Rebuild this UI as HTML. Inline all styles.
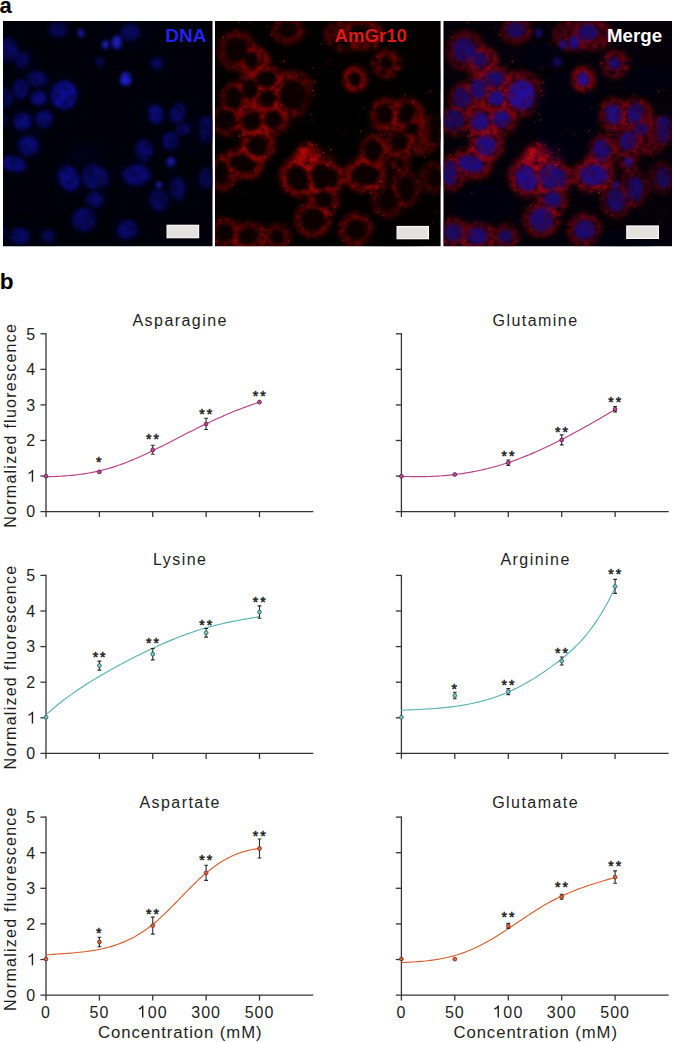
<!DOCTYPE html>
<html><head><meta charset="utf-8"><style>
html,body{margin:0;padding:0;background:#fff;}
body{width:673px;height:1042px;overflow:hidden;}
svg{display:block;}
.t{font-family:"Liberation Sans", sans-serif;fill:#1e1e1e;}
.t{font-size:16px;}
.yl{letter-spacing:1.25px;}
.tt{letter-spacing:1.45px;}
.xt{letter-spacing:0.95px;font-size:16.7px;}
.xl{letter-spacing:1px;}
.st{font-size:14px;letter-spacing:2px;stroke:#1e1e1e;stroke-width:0.5px;}
.lab{font-family:"Liberation Sans", sans-serif;font-weight:bold;font-size:22px;fill:#000;}
.pl{font-family:"Liberation Sans", sans-serif;font-weight:bold;font-size:19px;}
</style></head><body>
<svg width="673" height="1042" viewBox="0 0 673 1042">
<defs>
<filter id="fn" x="-20%" y="-20%" width="140%" height="140%" color-interpolation-filters="sRGB"><feGaussianBlur in="SourceGraphic" stdDeviation="1.5" result="b"/><feTurbulence type="fractalNoise" baseFrequency="0.12" numOctaves="2" seed="11" result="n"/><feColorMatrix in="n" type="matrix" values="0 0 0 0 0 0 0 0 0 0 0 0 0 0 0 1.1 0 0 0 0.3" result="na"/><feComposite in="b" in2="na" operator="in" result="m"/><feGaussianBlur in="m" stdDeviation="1.0"/></filter>
<filter id="fsp" x="-10%" y="-10%" width="120%" height="120%"><feGaussianBlur stdDeviation="0.7"/></filter>
<filter id="fnd" x="-20%" y="-20%" width="140%" height="140%"><feGaussianBlur stdDeviation="1.6"/></filter>
<filter id="fc" x="-30%" y="-30%" width="160%" height="160%" color-interpolation-filters="sRGB"><feGaussianBlur in="SourceGraphic" stdDeviation="2.4" result="b"/><feTurbulence type="fractalNoise" baseFrequency="0.22" numOctaves="2" seed="7" result="n"/><feColorMatrix in="n" type="matrix" values="0 0 0 0 0 0 0 0 0 0 0 0 0 0 0 2.2 0 0 0 -0.35" result="na"/><feComposite in="b" in2="na" operator="in" result="m"/><feGaussianBlur in="m" stdDeviation="0.9"/></filter>
<filter id="fc2" x="-30%" y="-30%" width="160%" height="160%"><feGaussianBlur stdDeviation="4.5"/></filter>
<filter id="fv" x="-30%" y="-30%" width="160%" height="160%"><feGaussianBlur stdDeviation="5"/></filter>
</defs>
<text x="-0.6" y="12.8" class="lab">a</text>
<clipPath id="clip_blue"><rect x="3" y="21" width="209.5" height="225.2"/></clipPath>
<rect x="3" y="21" width="209.5" height="225.2" fill="#01000a"/>
<g clip-path="url(#clip_blue)"><g transform="translate(-14,21)">
<g filter="url(#fc2)" opacity="0.9">
<ellipse cx="22" cy="30" rx="18" ry="19" fill="rgb(0,0,22)" fill-opacity="0.6"/>
<ellipse cx="40" cy="42" rx="14" ry="15" fill="rgb(0,0,27)" fill-opacity="0.6"/>
<ellipse cx="34" cy="70" rx="13" ry="15" fill="rgb(0,0,24)" fill-opacity="0.6"/>
<ellipse cx="20" cy="78" rx="13" ry="15" fill="rgb(0,0,23)" fill-opacity="0.6"/>
<ellipse cx="55" cy="78" rx="15" ry="13" fill="rgb(0,0,25)" fill-opacity="0.6"/>
<ellipse cx="54" cy="58" rx="15" ry="12" fill="rgb(0,0,23)" fill-opacity="0.6"/>
<ellipse cx="38" cy="101" rx="15" ry="15" fill="rgb(0,0,26)" fill-opacity="0.6"/>
<ellipse cx="60" cy="99" rx="13" ry="13" fill="rgb(0,0,24)" fill-opacity="0.6"/>
<ellipse cx="12" cy="100" rx="14" ry="14" fill="rgb(0,0,22)" fill-opacity="0.6"/>
<ellipse cx="78" cy="73" rx="22" ry="22" fill="rgb(0,0,24)" fill-opacity="0.6"/>
<ellipse cx="73" cy="10" rx="15" ry="12" fill="rgb(0,0,22)" fill-opacity="0.6"/>
<ellipse cx="130" cy="15" rx="20" ry="14" fill="rgb(0,0,22)" fill-opacity="0.6"/>
<ellipse cx="150" cy="14" rx="18" ry="14" fill="rgb(0,0,23)" fill-opacity="0.6"/>
<ellipse cx="172" cy="43" rx="13" ry="13" fill="rgb(0,0,23)" fill-opacity="0.6"/>
<ellipse cx="170" cy="94" rx="15" ry="16" fill="rgb(0,0,24)" fill-opacity="0.6"/>
<ellipse cx="193" cy="95" rx="16" ry="17" fill="rgb(0,0,23)" fill-opacity="0.6"/>
<ellipse cx="205" cy="115" rx="18" ry="18" fill="rgb(0,0,22)" fill-opacity="0.6"/>
<ellipse cx="43" cy="124" rx="16" ry="16" fill="rgb(0,0,27)" fill-opacity="0.6"/>
<ellipse cx="28" cy="143" rx="19" ry="14" fill="rgb(0,0,25)" fill-opacity="0.6"/>
<ellipse cx="84" cy="156" rx="18" ry="19" fill="rgb(0,0,27)" fill-opacity="0.6"/>
<ellipse cx="100" cy="136" rx="20" ry="12" fill="rgb(0,0,30)" fill-opacity="0.6"/>
<ellipse cx="97" cy="130" rx="12" ry="8" fill="rgb(0,0,30)" fill-opacity="0.6"/>
<ellipse cx="107" cy="156" rx="15" ry="18" fill="rgb(0,0,24)" fill-opacity="0.6"/>
<ellipse cx="109" cy="180" rx="14" ry="13" fill="rgb(0,0,24)" fill-opacity="0.6"/>
<ellipse cx="98" cy="199" rx="17" ry="16" fill="rgb(0,0,25)" fill-opacity="0.6"/>
<ellipse cx="34" cy="215" rx="17" ry="15" fill="rgb(0,0,25)" fill-opacity="0.6"/>
<ellipse cx="62" cy="216" rx="13" ry="12" fill="rgb(0,0,22)" fill-opacity="0.6"/>
<ellipse cx="8" cy="152" rx="13" ry="17" fill="rgb(0,0,23)" fill-opacity="0.6"/>
<ellipse cx="10" cy="212" rx="14" ry="14" fill="rgb(0,0,23)" fill-opacity="0.6"/>
<ellipse cx="158" cy="130" rx="14" ry="16" fill="rgb(0,0,25)" fill-opacity="0.6"/>
<ellipse cx="185" cy="122" rx="14" ry="14" fill="rgb(0,0,22)" fill-opacity="0.6"/>
<ellipse cx="150" cy="154" rx="20" ry="16" fill="rgb(0,0,27)" fill-opacity="0.6"/>
<ellipse cx="190" cy="168" rx="14" ry="18" fill="rgb(0,0,19)" fill-opacity="0.6"/>
<ellipse cx="173" cy="180" rx="15" ry="16" fill="rgb(0,0,20)" fill-opacity="0.6"/>
<ellipse cx="141" cy="209" rx="16" ry="16" fill="rgb(0,0,23)" fill-opacity="0.6"/>
<ellipse cx="218" cy="110" rx="12" ry="14" fill="rgb(0,0,20)" fill-opacity="0.6"/>
<ellipse cx="218" cy="157" rx="12" ry="15" fill="rgb(0,0,19)" fill-opacity="0.6"/>
<ellipse cx="117" cy="157" rx="11" ry="15" fill="rgb(0,0,24)" fill-opacity="0.6"/>
<ellipse cx="185" cy="141" rx="9" ry="9" fill="rgb(0,0,23)" fill-opacity="0.6"/>
</g>
<g filter="url(#fn)">
<ellipse cx="78" cy="74" rx="13" ry="14.5" transform="rotate(0 78 74)" fill="rgb(12,12,142)"/>
<ellipse cx="52.5" cy="77" rx="8.5" ry="7.5" transform="rotate(0 52.5 77)" fill="rgb(10,10,117)"/>
<ellipse cx="36.5" cy="100.5" rx="9" ry="9" transform="rotate(0 36.5 100.5)" fill="rgb(10,10,117)"/>
<ellipse cx="58" cy="98.3" rx="8.5" ry="8.5" transform="rotate(0 58 98.3)" fill="rgb(9,9,112)"/>
<ellipse cx="35" cy="68" rx="7.5" ry="10" transform="rotate(0 35 68)" fill="rgb(8,8,102)"/>
<ellipse cx="51" cy="58" rx="10" ry="8" transform="rotate(0 51 58)" fill="rgb(8,8,97)"/>
<ellipse cx="21" cy="29" rx="11" ry="12" transform="rotate(0 21 29)" fill="rgb(8,8,97)"/>
<ellipse cx="36" cy="39" rx="7" ry="8" transform="rotate(0 36 39)" fill="rgb(7,7,87)"/>
<ellipse cx="72.5" cy="8.5" rx="9" ry="8" transform="rotate(0 72.5 8.5)" fill="rgb(7,7,87)"/>
<ellipse cx="119.5" cy="23.5" rx="3.5" ry="4.5" transform="rotate(0 119.5 23.5)" fill="rgb(29,29,192)"/>
<ellipse cx="95" cy="12" rx="3.5" ry="4" transform="rotate(0 95 12)" fill="rgb(28,28,182)"/>
<ellipse cx="113.7" cy="41" rx="5" ry="5" transform="rotate(0 113.7 41)" fill="rgb(7,7,82)"/>
<ellipse cx="18.8" cy="77" rx="8" ry="11" transform="rotate(0 18.8 77)" fill="rgb(7,7,87)"/>
<ellipse cx="10" cy="99" rx="10" ry="10" transform="rotate(0 10 99)" fill="rgb(7,7,82)"/>
<ellipse cx="144.5" cy="11.5" rx="10" ry="8.5" transform="rotate(0 144.5 11.5)" fill="rgb(8,8,92)"/>
<ellipse cx="131" cy="21.5" rx="5" ry="7" transform="rotate(0 131 21.5)" fill="rgb(28,28,182)"/>
<ellipse cx="140" cy="58" rx="6" ry="7" transform="rotate(0 140 58)" fill="rgb(30,30,202)"/>
<ellipse cx="171" cy="42.5" rx="6" ry="6" transform="rotate(0 171 42.5)" fill="rgb(8,8,102)"/>
<ellipse cx="169.5" cy="93.3" rx="7.5" ry="10" transform="rotate(-15 169.5 93.3)" fill="rgb(10,10,117)"/>
<ellipse cx="191.5" cy="92.5" rx="7.5" ry="10.5" transform="rotate(20 191.5 92.5)" fill="rgb(8,8,102)"/>
<ellipse cx="197" cy="108" rx="7" ry="6" transform="rotate(0 197 108)" fill="rgb(8,8,92)"/>
<ellipse cx="220" cy="103" rx="7" ry="9" transform="rotate(0 220 103)" fill="rgb(7,7,82)"/>
<ellipse cx="42.5" cy="124.6" rx="10" ry="10" transform="rotate(0 42.5 124.6)" fill="rgb(10,10,117)"/>
<ellipse cx="27.3" cy="143" rx="13" ry="8" transform="rotate(15 27.3 143)" fill="rgb(9,9,112)"/>
<ellipse cx="83" cy="157.5" rx="10" ry="12.5" transform="rotate(-25 83 157.5)" fill="rgb(10,10,127)"/>
<ellipse cx="106.3" cy="155.5" rx="9.5" ry="12.5" transform="rotate(0 106.3 155.5)" fill="rgb(9,9,107)"/>
<ellipse cx="109" cy="178.5" rx="9" ry="8" transform="rotate(0 109 178.5)" fill="rgb(8,8,97)"/>
<ellipse cx="98" cy="198.5" rx="11.5" ry="11.5" transform="rotate(0 98 198.5)" fill="rgb(8,8,102)"/>
<ellipse cx="33.6" cy="215" rx="10" ry="8" transform="rotate(0 33.6 215)" fill="rgb(8,8,102)"/>
<ellipse cx="62" cy="216" rx="7" ry="7" transform="rotate(0 62 216)" fill="rgb(7,7,82)"/>
<ellipse cx="6.3" cy="152" rx="7" ry="12" transform="rotate(0 6.3 152)" fill="rgb(8,8,97)"/>
<ellipse cx="9.8" cy="211.8" rx="9" ry="9" transform="rotate(0 9.8 211.8)" fill="rgb(8,8,92)"/>
<ellipse cx="158" cy="129.7" rx="8.5" ry="11" transform="rotate(0 158 129.7)" fill="rgb(8,8,102)"/>
<ellipse cx="184.5" cy="120.3" rx="8" ry="9" transform="rotate(0 184.5 120.3)" fill="rgb(8,8,102)"/>
<ellipse cx="185" cy="141.6" rx="4" ry="5" transform="rotate(0 185 141.6)" fill="rgb(29,29,192)"/>
<ellipse cx="173" cy="163.7" rx="3" ry="3" transform="rotate(0 173 163.7)" fill="rgb(28,28,182)"/>
<ellipse cx="191.5" cy="168" rx="8" ry="12" transform="rotate(0 191.5 168)" fill="rgb(7,7,87)"/>
<ellipse cx="172.7" cy="179.2" rx="9.5" ry="11" transform="rotate(0 172.7 179.2)" fill="rgb(7,7,87)"/>
<ellipse cx="141" cy="209" rx="10" ry="10" transform="rotate(0 141 209)" fill="rgb(8,8,102)"/>
<ellipse cx="150.5" cy="154" rx="14" ry="10" transform="rotate(0 150.5 154)" fill="rgb(9,9,112)"/>
<ellipse cx="220" cy="114" rx="6" ry="8" transform="rotate(0 220 114)" fill="rgb(7,7,82)"/>
<ellipse cx="220" cy="157" rx="7" ry="10" transform="rotate(0 220 157)" fill="rgb(7,7,82)"/>
<ellipse cx="117" cy="157" rx="6" ry="10" transform="rotate(0 117 157)" fill="rgb(8,8,92)"/>
</g>
</g></g>
<clipPath id="clip_red"><rect x="215" y="21" width="225.6" height="225.2"/></clipPath>
<rect x="215" y="21" width="225.6" height="225.2" fill="#030000"/>
<g clip-path="url(#clip_red)"><g transform="translate(215,21)">
<g filter="url(#fc)">
<ellipse cx="22" cy="30" rx="18" ry="19" transform="rotate(0 22 30)" fill="rgb(127,4,4)" fill-opacity="0.6" stroke="rgb(151,8,8)" stroke-opacity="0.75" stroke-width="2.0"/>
<ellipse cx="40" cy="42" rx="14" ry="15" transform="rotate(0 40 42)" fill="rgb(183,6,6)" fill-opacity="0.6" stroke="rgb(211,10,10)" stroke-opacity="0.75" stroke-width="2.0"/>
<ellipse cx="34" cy="70" rx="13" ry="15" transform="rotate(0 34 70)" fill="rgb(151,5,5)" fill-opacity="0.6" stroke="rgb(177,9,9)" stroke-opacity="0.75" stroke-width="2.0"/>
<ellipse cx="20" cy="78" rx="13" ry="15" transform="rotate(0 20 78)" fill="rgb(135,4,4)" fill-opacity="0.6" stroke="rgb(160,8,8)" stroke-opacity="0.75" stroke-width="2.0"/>
<ellipse cx="55" cy="78" rx="15" ry="13" transform="rotate(0 55 78)" fill="rgb(167,5,5)" fill-opacity="0.6" stroke="rgb(194,9,9)" stroke-opacity="0.75" stroke-width="2.0"/>
<ellipse cx="54" cy="58" rx="15" ry="12" transform="rotate(0 54 58)" fill="rgb(143,4,4)" fill-opacity="0.6" stroke="rgb(168,8,8)" stroke-opacity="0.75" stroke-width="2.0"/>
<ellipse cx="38" cy="101" rx="15" ry="15" transform="rotate(0 38 101)" fill="rgb(175,5,5)" fill-opacity="0.6" stroke="rgb(202,9,9)" stroke-opacity="0.75" stroke-width="2.0"/>
<ellipse cx="60" cy="99" rx="13" ry="13" transform="rotate(0 60 99)" fill="rgb(151,5,5)" fill-opacity="0.6" stroke="rgb(177,9,9)" stroke-opacity="0.75" stroke-width="2.0"/>
<ellipse cx="12" cy="100" rx="14" ry="14" transform="rotate(0 12 100)" fill="rgb(127,4,4)" fill-opacity="0.6" stroke="rgb(151,8,8)" stroke-opacity="0.75" stroke-width="2.0"/>
<ellipse cx="78" cy="73" rx="22" ry="22" transform="rotate(0 78 73)" fill="rgb(151,5,5)" fill-opacity="0.6" stroke="rgb(177,9,9)" stroke-opacity="0.75" stroke-width="2.0"/>
<ellipse cx="73" cy="10" rx="15" ry="12" transform="rotate(0 73 10)" fill="rgb(127,4,4)" fill-opacity="0.6" stroke="rgb(151,8,8)" stroke-opacity="0.75" stroke-width="2.0"/>
<ellipse cx="130" cy="15" rx="20" ry="14" transform="rotate(0 130 15)" fill="rgb(127,4,4)" fill-opacity="0.6" stroke="rgb(151,8,8)" stroke-opacity="0.75" stroke-width="2.0"/>
<ellipse cx="150" cy="14" rx="18" ry="14" transform="rotate(0 150 14)" fill="rgb(143,4,4)" fill-opacity="0.6" stroke="rgb(168,8,8)" stroke-opacity="0.75" stroke-width="2.0"/>
<ellipse cx="172" cy="43" rx="13" ry="13" transform="rotate(0 172 43)" fill="rgb(143,4,4)" fill-opacity="0.6" stroke="rgb(168,8,8)" stroke-opacity="0.75" stroke-width="2.0"/>
<ellipse cx="170" cy="94" rx="15" ry="16" transform="rotate(0 170 94)" fill="rgb(151,5,5)" fill-opacity="0.6" stroke="rgb(177,9,9)" stroke-opacity="0.75" stroke-width="2.0"/>
<ellipse cx="193" cy="95" rx="16" ry="17" transform="rotate(0 193 95)" fill="rgb(143,4,4)" fill-opacity="0.6" stroke="rgb(168,8,8)" stroke-opacity="0.75" stroke-width="2.0"/>
<ellipse cx="205" cy="115" rx="18" ry="18" transform="rotate(0 205 115)" fill="rgb(127,4,4)" fill-opacity="0.6" stroke="rgb(151,8,8)" stroke-opacity="0.75" stroke-width="2.0"/>
<ellipse cx="43" cy="124" rx="16" ry="16" transform="rotate(0 43 124)" fill="rgb(183,6,6)" fill-opacity="0.6" stroke="rgb(211,10,10)" stroke-opacity="0.75" stroke-width="2.0"/>
<ellipse cx="28" cy="143" rx="19" ry="14" transform="rotate(15 28 143)" fill="rgb(167,5,5)" fill-opacity="0.6" stroke="rgb(194,9,9)" stroke-opacity="0.75" stroke-width="2.0"/>
<ellipse cx="84" cy="156" rx="18" ry="19" transform="rotate(-25 84 156)" fill="rgb(183,6,6)" fill-opacity="0.6" stroke="rgb(211,10,10)" stroke-opacity="0.75" stroke-width="2.0"/>
<ellipse cx="100" cy="136" rx="20" ry="12" transform="rotate(0 100 136)" fill="rgb(215,7,7)" fill-opacity="0.6" stroke="rgb(245,11,11)" stroke-opacity="0.75" stroke-width="2.0"/>
<ellipse cx="97" cy="130" rx="12" ry="8" transform="rotate(0 97 130)" fill="rgb(215,7,7)" fill-opacity="0.6" stroke="rgb(245,11,11)" stroke-opacity="0.75" stroke-width="2.0"/>
<ellipse cx="107" cy="156" rx="15" ry="18" transform="rotate(0 107 156)" fill="rgb(151,5,5)" fill-opacity="0.6" stroke="rgb(177,9,9)" stroke-opacity="0.75" stroke-width="2.0"/>
<ellipse cx="109" cy="180" rx="14" ry="13" transform="rotate(0 109 180)" fill="rgb(151,5,5)" fill-opacity="0.6" stroke="rgb(177,9,9)" stroke-opacity="0.75" stroke-width="2.0"/>
<ellipse cx="98" cy="199" rx="17" ry="16" transform="rotate(0 98 199)" fill="rgb(159,5,5)" fill-opacity="0.6" stroke="rgb(185,9,9)" stroke-opacity="0.75" stroke-width="2.0"/>
<ellipse cx="34" cy="215" rx="17" ry="15" transform="rotate(0 34 215)" fill="rgb(159,5,5)" fill-opacity="0.6" stroke="rgb(185,9,9)" stroke-opacity="0.75" stroke-width="2.0"/>
<ellipse cx="62" cy="216" rx="13" ry="12" transform="rotate(0 62 216)" fill="rgb(127,4,4)" fill-opacity="0.6" stroke="rgb(151,8,8)" stroke-opacity="0.75" stroke-width="2.0"/>
<ellipse cx="8" cy="152" rx="13" ry="17" transform="rotate(0 8 152)" fill="rgb(143,4,4)" fill-opacity="0.6" stroke="rgb(168,8,8)" stroke-opacity="0.75" stroke-width="2.0"/>
<ellipse cx="10" cy="212" rx="14" ry="14" transform="rotate(0 10 212)" fill="rgb(143,4,4)" fill-opacity="0.6" stroke="rgb(168,8,8)" stroke-opacity="0.75" stroke-width="2.0"/>
<ellipse cx="158" cy="130" rx="14" ry="16" transform="rotate(0 158 130)" fill="rgb(159,5,5)" fill-opacity="0.6" stroke="rgb(185,9,9)" stroke-opacity="0.75" stroke-width="2.0"/>
<ellipse cx="185" cy="122" rx="14" ry="14" transform="rotate(0 185 122)" fill="rgb(127,4,4)" fill-opacity="0.6" stroke="rgb(151,8,8)" stroke-opacity="0.75" stroke-width="2.0"/>
<ellipse cx="150" cy="154" rx="20" ry="16" transform="rotate(0 150 154)" fill="rgb(191,6,6)" fill-opacity="0.6" stroke="rgb(219,10,10)" stroke-opacity="0.75" stroke-width="2.0"/>
<ellipse cx="190" cy="168" rx="14" ry="18" transform="rotate(0 190 168)" fill="rgb(95,3,3)" fill-opacity="0.6" stroke="rgb(117,7,7)" stroke-opacity="0.75" stroke-width="2.0"/>
<ellipse cx="173" cy="180" rx="15" ry="16" transform="rotate(0 173 180)" fill="rgb(103,3,3)" fill-opacity="0.6" stroke="rgb(126,7,7)" stroke-opacity="0.75" stroke-width="2.0"/>
<ellipse cx="141" cy="209" rx="16" ry="16" transform="rotate(0 141 209)" fill="rgb(143,4,4)" fill-opacity="0.6" stroke="rgb(168,8,8)" stroke-opacity="0.75" stroke-width="2.0"/>
<ellipse cx="218" cy="110" rx="12" ry="14" transform="rotate(0 218 110)" fill="rgb(103,3,3)" fill-opacity="0.6" stroke="rgb(126,7,7)" stroke-opacity="0.75" stroke-width="2.0"/>
<ellipse cx="218" cy="157" rx="12" ry="15" transform="rotate(0 218 157)" fill="rgb(90,3,3)" fill-opacity="0.6" stroke="rgb(112,7,7)" stroke-opacity="0.75" stroke-width="2.0"/>
<ellipse cx="117" cy="157" rx="11" ry="15" transform="rotate(0 117 157)" fill="rgb(151,5,5)" fill-opacity="0.6" stroke="rgb(177,9,9)" stroke-opacity="0.75" stroke-width="2.0"/>
<ellipse cx="185" cy="141" rx="9" ry="9" transform="rotate(0 185 141)" fill="rgb(135,4,4)" fill-opacity="0.6" stroke="rgb(160,8,8)" stroke-opacity="0.75" stroke-width="2.0"/>
</g>
<g filter="url(#fv)">
<ellipse cx="122" cy="96" rx="33" ry="46" fill="#030000" fill-opacity="0.85"/>
<ellipse cx="98" cy="35" rx="20" ry="14" fill="#030000" fill-opacity="0.85"/>
<ellipse cx="40" cy="183" rx="28" ry="20" fill="#030000" fill-opacity="0.85"/>
<ellipse cx="205" cy="60" rx="22" ry="15" fill="#030000" fill-opacity="0.85"/>
<ellipse cx="180" cy="220" rx="30" ry="12" fill="#030000" fill-opacity="0.85"/>
</g>
<g filter="url(#fc)">
<ellipse cx="140" cy="58" rx="10" ry="11" transform="rotate(0 140 58)" fill="rgb(207,6,6)" fill-opacity="0.55" stroke="rgb(236,10,10)" stroke-opacity="0.9" stroke-width="2.6"/>
</g>
<g filter="url(#fsp)">
<circle cx="8.5" cy="16.1" r="0.82" fill="rgb(156,12,14)"/>
<circle cx="20.7" cy="8.8" r="0.51" fill="rgb(133,12,14)"/>
<circle cx="39.0" cy="23.3" r="0.86" fill="rgb(115,12,14)"/>
<circle cx="7.0" cy="33.1" r="0.72" fill="rgb(138,12,14)"/>
<circle cx="37.0" cy="31.3" r="0.61" fill="rgb(155,12,14)"/>
<circle cx="23.4" cy="14.6" r="0.82" fill="rgb(116,12,14)"/>
<circle cx="31.7" cy="33.9" r="0.50" fill="rgb(186,12,14)"/>
<circle cx="43.0" cy="54.1" r="0.89" fill="rgb(186,12,14)"/>
<circle cx="36.1" cy="58.5" r="0.72" fill="rgb(169,12,14)"/>
<circle cx="44.4" cy="58.2" r="0.78" fill="rgb(195,12,14)"/>
<circle cx="49.6" cy="33.9" r="0.64" fill="rgb(124,12,14)"/>
<circle cx="46.6" cy="51.2" r="0.62" fill="rgb(163,12,14)"/>
<circle cx="54.3" cy="42.3" r="0.64" fill="rgb(137,12,14)"/>
<circle cx="45.5" cy="29.2" r="0.63" fill="rgb(152,12,14)"/>
<circle cx="31.2" cy="58.9" r="0.89" fill="rgb(111,12,14)"/>
<circle cx="34.0" cy="53.7" r="0.51" fill="rgb(161,12,14)"/>
<circle cx="25.5" cy="81.0" r="0.50" fill="rgb(113,12,14)"/>
<circle cx="40.2" cy="85.4" r="0.58" fill="rgb(159,12,14)"/>
<circle cx="47.2" cy="62.8" r="0.64" fill="rgb(133,12,14)"/>
<circle cx="20.4" cy="67.5" r="0.54" fill="rgb(159,12,14)"/>
<circle cx="38.2" cy="54.3" r="0.51" fill="rgb(172,12,14)"/>
<circle cx="29.7" cy="85.2" r="0.74" fill="rgb(160,12,14)"/>
<circle cx="12.2" cy="92.2" r="0.72" fill="rgb(127,12,14)"/>
<circle cx="15.7" cy="89.2" r="0.53" fill="rgb(118,12,14)"/>
<circle cx="14.4" cy="62.0" r="0.56" fill="rgb(112,12,14)"/>
<circle cx="32.5" cy="76.8" r="0.66" fill="rgb(123,12,14)"/>
<circle cx="8.3" cy="69.0" r="0.68" fill="rgb(133,12,14)"/>
<circle cx="33.6" cy="83.7" r="0.51" fill="rgb(137,12,14)"/>
<circle cx="61.3" cy="69.1" r="0.79" fill="rgb(183,12,14)"/>
<circle cx="44.1" cy="67.9" r="0.54" fill="rgb(143,12,14)"/>
<circle cx="64.7" cy="89.4" r="0.62" fill="rgb(144,12,14)"/>
<circle cx="71.4" cy="77.9" r="0.89" fill="rgb(144,12,14)"/>
<circle cx="39.4" cy="79.0" r="0.69" fill="rgb(132,12,14)"/>
<circle cx="45.0" cy="84.0" r="0.65" fill="rgb(186,12,14)"/>
<circle cx="69.5" cy="74.7" r="0.70" fill="rgb(136,12,14)"/>
<circle cx="65.9" cy="83.9" r="0.81" fill="rgb(176,12,14)"/>
<circle cx="43.7" cy="67.8" r="0.81" fill="rgb(152,12,14)"/>
<circle cx="45.9" cy="47.2" r="0.65" fill="rgb(152,12,14)"/>
<circle cx="51.3" cy="69.1" r="0.81" fill="rgb(151,12,14)"/>
<circle cx="49.4" cy="71.0" r="0.76" fill="rgb(145,12,14)"/>
<circle cx="68.5" cy="58.8" r="0.60" fill="rgb(150,12,14)"/>
<circle cx="38.3" cy="61.0" r="0.76" fill="rgb(158,12,14)"/>
<circle cx="45.3" cy="67.9" r="0.80" fill="rgb(160,12,14)"/>
<circle cx="28.4" cy="114.2" r="0.85" fill="rgb(166,12,14)"/>
<circle cx="54.8" cy="98.5" r="0.71" fill="rgb(153,12,14)"/>
<circle cx="46.2" cy="115.1" r="0.87" fill="rgb(149,12,14)"/>
<circle cx="32.4" cy="86.5" r="0.79" fill="rgb(124,12,14)"/>
<circle cx="40.8" cy="86.5" r="0.77" fill="rgb(144,12,14)"/>
<circle cx="26.7" cy="89.8" r="0.75" fill="rgb(169,12,14)"/>
<circle cx="50.0" cy="103.1" r="0.68" fill="rgb(163,12,14)"/>
<circle cx="41.0" cy="116.1" r="0.75" fill="rgb(113,12,14)"/>
<circle cx="49.2" cy="100.9" r="0.52" fill="rgb(118,12,14)"/>
<circle cx="55.6" cy="108.8" r="0.58" fill="rgb(112,12,14)"/>
<circle cx="48.5" cy="101.5" r="0.74" fill="rgb(148,12,14)"/>
<circle cx="61.1" cy="113.4" r="0.50" fill="rgb(136,12,14)"/>
<circle cx="57.9" cy="110.7" r="0.55" fill="rgb(164,12,14)"/>
<circle cx="53.0" cy="106.1" r="0.75" fill="rgb(116,12,14)"/>
<circle cx="48.9" cy="95.8" r="0.73" fill="rgb(173,12,14)"/>
<circle cx="17.4" cy="88.3" r="0.83" fill="rgb(141,12,14)"/>
<circle cx="4.3" cy="108.3" r="0.74" fill="rgb(137,12,14)"/>
<circle cx="27.3" cy="95.8" r="0.74" fill="rgb(127,12,14)"/>
<circle cx="20.2" cy="93.5" r="0.54" fill="rgb(138,12,14)"/>
<circle cx="3.5" cy="92.5" r="0.75" fill="rgb(154,12,14)"/>
<circle cx="2.8" cy="109.1" r="0.59" fill="rgb(124,12,14)"/>
<circle cx="97.5" cy="69.6" r="0.88" fill="rgb(170,12,14)"/>
<circle cx="62.5" cy="62.4" r="0.89" fill="rgb(142,12,14)"/>
<circle cx="61.4" cy="82.8" r="0.89" fill="rgb(142,12,14)"/>
<circle cx="73.3" cy="93.2" r="0.55" fill="rgb(151,12,14)"/>
<circle cx="60.1" cy="79.6" r="0.81" fill="rgb(164,12,14)"/>
<circle cx="99.1" cy="74.8" r="0.61" fill="rgb(171,12,14)"/>
<circle cx="81.7" cy="54.7" r="0.61" fill="rgb(120,12,14)"/>
<circle cx="86.0" cy="9.3" r="0.74" fill="rgb(133,12,14)"/>
<circle cx="63.9" cy="0.6" r="0.80" fill="rgb(115,12,14)"/>
<circle cx="73.9" cy="-0.4" r="0.71" fill="rgb(126,12,14)"/>
<circle cx="68.8" cy="21.0" r="0.69" fill="rgb(127,12,14)"/>
<circle cx="72.5" cy="-1.8" r="0.51" fill="rgb(122,12,14)"/>
<circle cx="56.9" cy="13.7" r="0.86" fill="rgb(137,12,14)"/>
<circle cx="151.1" cy="16.4" r="0.67" fill="rgb(138,12,14)"/>
<circle cx="124.8" cy="1.4" r="0.69" fill="rgb(155,12,14)"/>
<circle cx="116.4" cy="23.4" r="0.84" fill="rgb(119,12,14)"/>
<circle cx="123.8" cy="29.5" r="0.53" fill="rgb(151,12,14)"/>
<circle cx="123.7" cy="2.9" r="0.61" fill="rgb(148,12,14)"/>
<circle cx="143.7" cy="9.0" r="0.69" fill="rgb(137,12,14)"/>
<circle cx="134.1" cy="14.2" r="0.56" fill="rgb(145,12,14)"/>
<circle cx="155.3" cy="3.9" r="0.59" fill="rgb(159,12,14)"/>
<circle cx="154.7" cy="0.3" r="0.51" fill="rgb(153,12,14)"/>
<circle cx="170.5" cy="11.9" r="0.78" fill="rgb(112,12,14)"/>
<circle cx="158.2" cy="4.2" r="0.76" fill="rgb(167,12,14)"/>
<circle cx="146.6" cy="3.1" r="0.62" fill="rgb(165,12,14)"/>
<circle cx="160.5" cy="25.2" r="0.67" fill="rgb(119,12,14)"/>
<circle cx="164.8" cy="36.1" r="0.54" fill="rgb(132,12,14)"/>
<circle cx="181.0" cy="47.4" r="0.73" fill="rgb(154,12,14)"/>
<circle cx="179.5" cy="35.8" r="0.67" fill="rgb(129,12,14)"/>
<circle cx="162.1" cy="35.8" r="0.88" fill="rgb(132,12,14)"/>
<circle cx="184.6" cy="47.6" r="0.56" fill="rgb(148,12,14)"/>
<circle cx="157.5" cy="42.5" r="0.72" fill="rgb(147,12,14)"/>
<circle cx="171.0" cy="55.6" r="0.60" fill="rgb(155,12,14)"/>
<circle cx="158.0" cy="92.6" r="0.59" fill="rgb(134,12,14)"/>
<circle cx="169.0" cy="80.9" r="0.79" fill="rgb(153,12,14)"/>
<circle cx="183.1" cy="102.3" r="0.54" fill="rgb(118,12,14)"/>
<circle cx="159.5" cy="86.5" r="0.85" fill="rgb(141,12,14)"/>
<circle cx="162.9" cy="109.3" r="0.51" fill="rgb(157,12,14)"/>
<circle cx="181.5" cy="98.3" r="0.88" fill="rgb(154,12,14)"/>
<circle cx="172.0" cy="106.6" r="0.89" fill="rgb(153,12,14)"/>
<circle cx="198.5" cy="82.6" r="0.75" fill="rgb(131,12,14)"/>
<circle cx="194.3" cy="109.9" r="0.75" fill="rgb(131,12,14)"/>
<circle cx="183.3" cy="104.0" r="0.83" fill="rgb(149,12,14)"/>
<circle cx="198.0" cy="80.2" r="0.84" fill="rgb(141,12,14)"/>
<circle cx="179.9" cy="85.8" r="0.80" fill="rgb(133,12,14)"/>
<circle cx="203.0" cy="102.4" r="0.58" fill="rgb(112,12,14)"/>
<circle cx="204.6" cy="84.7" r="0.80" fill="rgb(110,12,14)"/>
<circle cx="185.4" cy="118.7" r="0.75" fill="rgb(131,12,14)"/>
<circle cx="191.1" cy="118.1" r="0.56" fill="rgb(117,12,14)"/>
<circle cx="193.5" cy="126.5" r="0.85" fill="rgb(117,12,14)"/>
<circle cx="204.6" cy="130.5" r="0.56" fill="rgb(124,12,14)"/>
<circle cx="206.6" cy="131.9" r="0.51" fill="rgb(155,12,14)"/>
<circle cx="191.2" cy="129.9" r="0.78" fill="rgb(143,12,14)"/>
<circle cx="25.2" cy="127.2" r="0.55" fill="rgb(168,12,14)"/>
<circle cx="38.8" cy="139.8" r="0.79" fill="rgb(124,12,14)"/>
<circle cx="46.7" cy="135.6" r="0.59" fill="rgb(116,12,14)"/>
<circle cx="28.2" cy="134.6" r="0.65" fill="rgb(137,12,14)"/>
<circle cx="29.5" cy="126.8" r="0.79" fill="rgb(173,12,14)"/>
<circle cx="50.0" cy="135.6" r="0.77" fill="rgb(192,12,14)"/>
<circle cx="34.0" cy="112.3" r="0.89" fill="rgb(110,12,14)"/>
<circle cx="58.8" cy="130.3" r="0.66" fill="rgb(113,12,14)"/>
<circle cx="7.2" cy="138.2" r="0.71" fill="rgb(136,12,14)"/>
<circle cx="40.3" cy="149.1" r="0.86" fill="rgb(147,12,14)"/>
<circle cx="41.5" cy="138.8" r="0.60" fill="rgb(113,12,14)"/>
<circle cx="16.2" cy="149.5" r="0.60" fill="rgb(141,12,14)"/>
<circle cx="23.0" cy="153.1" r="0.52" fill="rgb(184,12,14)"/>
<circle cx="35.8" cy="155.1" r="0.66" fill="rgb(150,12,14)"/>
<circle cx="42.4" cy="149.2" r="0.54" fill="rgb(151,12,14)"/>
<circle cx="44.5" cy="136.4" r="0.84" fill="rgb(126,12,14)"/>
<circle cx="101.3" cy="158.0" r="0.69" fill="rgb(160,12,14)"/>
<circle cx="71.1" cy="169.3" r="0.79" fill="rgb(190,12,14)"/>
<circle cx="78.1" cy="172.5" r="0.83" fill="rgb(129,12,14)"/>
<circle cx="95.8" cy="167.0" r="0.54" fill="rgb(177,12,14)"/>
<circle cx="90.7" cy="140.9" r="0.55" fill="rgb(117,12,14)"/>
<circle cx="84.5" cy="170.9" r="0.67" fill="rgb(160,12,14)"/>
<circle cx="84.4" cy="170.7" r="0.78" fill="rgb(114,12,14)"/>
<circle cx="88.8" cy="171.6" r="0.65" fill="rgb(118,12,14)"/>
<circle cx="84.6" cy="141.0" r="0.80" fill="rgb(171,12,14)"/>
<circle cx="116.1" cy="128.6" r="0.80" fill="rgb(173,12,14)"/>
<circle cx="79.9" cy="140.6" r="0.76" fill="rgb(215,12,14)"/>
<circle cx="97.2" cy="123.8" r="0.61" fill="rgb(199,12,14)"/>
<circle cx="88.1" cy="142.5" r="0.53" fill="rgb(128,12,14)"/>
<circle cx="98.4" cy="148.2" r="0.61" fill="rgb(116,12,14)"/>
<circle cx="101.7" cy="124.4" r="0.51" fill="rgb(115,12,14)"/>
<circle cx="112.2" cy="143.8" r="0.84" fill="rgb(214,12,14)"/>
<circle cx="87.2" cy="129.5" r="0.67" fill="rgb(149,12,14)"/>
<circle cx="92.7" cy="143.9" r="0.73" fill="rgb(200,12,14)"/>
<circle cx="95.6" cy="123.8" r="0.71" fill="rgb(128,12,14)"/>
<circle cx="94.2" cy="122.8" r="0.88" fill="rgb(197,12,14)"/>
<circle cx="104.8" cy="134.7" r="0.87" fill="rgb(160,12,14)"/>
<circle cx="86.8" cy="133.0" r="0.81" fill="rgb(212,12,14)"/>
<circle cx="83.6" cy="128.1" r="0.74" fill="rgb(121,12,14)"/>
<circle cx="101.3" cy="123.2" r="0.52" fill="rgb(217,12,14)"/>
<circle cx="108.5" cy="131.6" r="0.69" fill="rgb(206,12,14)"/>
<circle cx="89.2" cy="134.2" r="0.61" fill="rgb(132,12,14)"/>
<circle cx="87.1" cy="127.3" r="0.80" fill="rgb(136,12,14)"/>
<circle cx="90.9" cy="135.5" r="0.89" fill="rgb(202,12,14)"/>
<circle cx="115.8" cy="141.5" r="0.66" fill="rgb(119,12,14)"/>
<circle cx="114.0" cy="141.2" r="0.52" fill="rgb(121,12,14)"/>
<circle cx="119.7" cy="166.9" r="0.86" fill="rgb(123,12,14)"/>
<circle cx="110.8" cy="140.9" r="0.77" fill="rgb(166,12,14)"/>
<circle cx="95.5" cy="142.5" r="0.65" fill="rgb(110,12,14)"/>
<circle cx="92.3" cy="154.7" r="0.57" fill="rgb(135,12,14)"/>
<circle cx="102.3" cy="168.5" r="0.62" fill="rgb(135,12,14)"/>
<circle cx="94.7" cy="182.0" r="0.66" fill="rgb(174,12,14)"/>
<circle cx="115.3" cy="166.7" r="0.78" fill="rgb(154,12,14)"/>
<circle cx="94.4" cy="176.8" r="0.65" fill="rgb(149,12,14)"/>
<circle cx="103.2" cy="168.7" r="0.61" fill="rgb(115,12,14)"/>
<circle cx="119.7" cy="186.0" r="0.73" fill="rgb(160,12,14)"/>
<circle cx="106.3" cy="168.9" r="0.87" fill="rgb(128,12,14)"/>
<circle cx="106.7" cy="170.1" r="0.80" fill="rgb(154,12,14)"/>
<circle cx="116.2" cy="194.3" r="0.78" fill="rgb(169,12,14)"/>
<circle cx="96.8" cy="183.1" r="0.58" fill="rgb(146,12,14)"/>
<circle cx="109.4" cy="190.8" r="0.89" fill="rgb(148,12,14)"/>
<circle cx="88.0" cy="206.5" r="0.66" fill="rgb(122,12,14)"/>
<circle cx="87.2" cy="184.4" r="0.86" fill="rgb(153,12,14)"/>
<circle cx="87.8" cy="207.3" r="0.78" fill="rgb(149,12,14)"/>
<circle cx="94.7" cy="184.9" r="0.85" fill="rgb(125,12,14)"/>
<circle cx="29.0" cy="227.1" r="0.75" fill="rgb(174,12,14)"/>
<circle cx="42.5" cy="228.1" r="0.81" fill="rgb(126,12,14)"/>
<circle cx="49.3" cy="220.6" r="0.83" fill="rgb(172,12,14)"/>
<circle cx="31.9" cy="201.4" r="0.67" fill="rgb(147,12,14)"/>
<circle cx="46.2" cy="207.6" r="0.61" fill="rgb(153,12,14)"/>
<circle cx="47.7" cy="212.4" r="0.51" fill="rgb(118,12,14)"/>
<circle cx="18.4" cy="209.3" r="0.57" fill="rgb(123,12,14)"/>
<circle cx="51.1" cy="209.2" r="0.78" fill="rgb(146,12,14)"/>
<circle cx="73.4" cy="220.3" r="0.83" fill="rgb(157,12,14)"/>
<circle cx="56.1" cy="227.9" r="0.76" fill="rgb(155,12,14)"/>
<circle cx="63.8" cy="228.2" r="0.84" fill="rgb(133,12,14)"/>
<circle cx="70.7" cy="221.9" r="0.56" fill="rgb(114,12,14)"/>
<circle cx="69.5" cy="225.8" r="0.54" fill="rgb(147,12,14)"/>
<circle cx="6.8" cy="133.8" r="0.82" fill="rgb(153,12,14)"/>
<circle cx="21.1" cy="143.2" r="0.75" fill="rgb(168,12,14)"/>
<circle cx="16.2" cy="160.1" r="0.53" fill="rgb(122,12,14)"/>
<circle cx="-0.6" cy="163.3" r="0.77" fill="rgb(154,12,14)"/>
<circle cx="18.2" cy="159.8" r="0.72" fill="rgb(132,12,14)"/>
<circle cx="17.5" cy="163.3" r="0.65" fill="rgb(151,12,14)"/>
<circle cx="-6.8" cy="152.5" r="0.88" fill="rgb(114,12,14)"/>
<circle cx="10.9" cy="197.5" r="0.62" fill="rgb(117,12,14)"/>
<circle cx="-2.4" cy="213.6" r="0.79" fill="rgb(165,12,14)"/>
<circle cx="1.1" cy="220.2" r="0.70" fill="rgb(152,12,14)"/>
<circle cx="13.3" cy="198.7" r="0.62" fill="rgb(130,12,14)"/>
<circle cx="17.7" cy="201.1" r="0.52" fill="rgb(135,12,14)"/>
<circle cx="11.1" cy="226.2" r="0.53" fill="rgb(126,12,14)"/>
<circle cx="20.8" cy="219.5" r="0.89" fill="rgb(142,12,14)"/>
<circle cx="146.1" cy="141.8" r="0.54" fill="rgb(135,12,14)"/>
<circle cx="161.9" cy="118.8" r="0.81" fill="rgb(135,12,14)"/>
<circle cx="169.8" cy="131.4" r="0.68" fill="rgb(137,12,14)"/>
<circle cx="147.3" cy="128.7" r="0.59" fill="rgb(179,12,14)"/>
<circle cx="145.7" cy="135.3" r="0.53" fill="rgb(129,12,14)"/>
<circle cx="171.8" cy="125.4" r="0.70" fill="rgb(113,12,14)"/>
<circle cx="146.4" cy="140.6" r="0.67" fill="rgb(152,12,14)"/>
<circle cx="196.5" cy="113.9" r="0.75" fill="rgb(111,12,14)"/>
<circle cx="199.6" cy="124.2" r="0.67" fill="rgb(153,12,14)"/>
<circle cx="192.2" cy="108.1" r="0.65" fill="rgb(159,12,14)"/>
<circle cx="185.6" cy="106.5" r="0.56" fill="rgb(148,12,14)"/>
<circle cx="170.9" cy="129.5" r="0.90" fill="rgb(120,12,14)"/>
<circle cx="174.4" cy="127.7" r="0.69" fill="rgb(124,12,14)"/>
<circle cx="142.0" cy="142.9" r="0.57" fill="rgb(152,12,14)"/>
<circle cx="166.1" cy="160.5" r="0.86" fill="rgb(192,12,14)"/>
<circle cx="155.0" cy="165.4" r="0.83" fill="rgb(199,12,14)"/>
<circle cx="136.9" cy="146.5" r="0.59" fill="rgb(196,12,14)"/>
<circle cx="164.1" cy="149.3" r="0.57" fill="rgb(150,12,14)"/>
<circle cx="147.8" cy="170.7" r="0.65" fill="rgb(182,12,14)"/>
<circle cx="161.1" cy="166.5" r="0.89" fill="rgb(175,12,14)"/>
<circle cx="163.4" cy="160.8" r="0.76" fill="rgb(145,12,14)"/>
<circle cx="137.2" cy="165.1" r="0.73" fill="rgb(200,12,14)"/>
<circle cx="190.8" cy="185.6" r="0.61" fill="rgb(124,12,14)"/>
<circle cx="188.7" cy="153.6" r="0.69" fill="rgb(129,12,14)"/>
<circle cx="204.8" cy="169.0" r="0.67" fill="rgb(123,12,14)"/>
<circle cx="178.5" cy="155.7" r="0.52" fill="rgb(123,12,14)"/>
<circle cx="202.3" cy="171.9" r="0.64" fill="rgb(110,12,14)"/>
<circle cx="168.9" cy="194.2" r="0.76" fill="rgb(140,12,14)"/>
<circle cx="163.1" cy="191.2" r="0.79" fill="rgb(140,12,14)"/>
<circle cx="189.3" cy="174.3" r="0.62" fill="rgb(115,12,14)"/>
<circle cx="183.7" cy="174.8" r="0.68" fill="rgb(134,12,14)"/>
<circle cx="159.6" cy="177.4" r="0.87" fill="rgb(119,12,14)"/>
<circle cx="124.6" cy="203.5" r="0.56" fill="rgb(131,12,14)"/>
<circle cx="125.4" cy="209.6" r="0.58" fill="rgb(137,12,14)"/>
<circle cx="152.7" cy="213.6" r="0.64" fill="rgb(118,12,14)"/>
<circle cx="154.4" cy="206.2" r="0.61" fill="rgb(157,12,14)"/>
<circle cx="140.2" cy="195.3" r="0.83" fill="rgb(147,12,14)"/>
<circle cx="128.7" cy="219.3" r="0.60" fill="rgb(125,12,14)"/>
<circle cx="151.6" cy="198.6" r="0.86" fill="rgb(120,12,14)"/>
<circle cx="224.0" cy="118.2" r="0.80" fill="rgb(128,12,14)"/>
<circle cx="227.2" cy="110.7" r="0.83" fill="rgb(126,12,14)"/>
<circle cx="224.3" cy="102.2" r="0.74" fill="rgb(113,12,14)"/>
<circle cx="215.8" cy="96.3" r="0.74" fill="rgb(117,12,14)"/>
<circle cx="227.0" cy="106.5" r="0.53" fill="rgb(132,12,14)"/>
<circle cx="225.8" cy="163.4" r="0.68" fill="rgb(125,12,14)"/>
<circle cx="227.7" cy="147.2" r="0.53" fill="rgb(125,12,14)"/>
<circle cx="223.3" cy="147.0" r="0.80" fill="rgb(116,12,14)"/>
<circle cx="215.3" cy="167.7" r="0.80" fill="rgb(122,12,14)"/>
<circle cx="227.2" cy="148.9" r="0.56" fill="rgb(115,12,14)"/>
<circle cx="116.0" cy="173.9" r="0.58" fill="rgb(115,12,14)"/>
<circle cx="111.8" cy="166.4" r="0.67" fill="rgb(151,12,14)"/>
<circle cx="111.7" cy="147.0" r="0.56" fill="rgb(142,12,14)"/>
<circle cx="113.1" cy="144.1" r="0.73" fill="rgb(170,12,14)"/>
<circle cx="122.8" cy="167.2" r="0.70" fill="rgb(145,12,14)"/>
<circle cx="125.7" cy="148.4" r="0.76" fill="rgb(137,12,14)"/>
<circle cx="119.5" cy="141.1" r="0.62" fill="rgb(117,12,14)"/>
<circle cx="184.5" cy="149.0" r="0.86" fill="rgb(124,12,14)"/>
<circle cx="178.8" cy="134.4" r="0.88" fill="rgb(116,12,14)"/>
<circle cx="186.0" cy="133.1" r="0.54" fill="rgb(144,12,14)"/>
<circle cx="189.9" cy="133.7" r="0.52" fill="rgb(163,12,14)"/>
<circle cx="178.3" cy="147.0" r="0.79" fill="rgb(124,12,14)"/>
<circle cx="178.3" cy="145.3" r="0.54" fill="rgb(113,12,14)"/>
<circle cx="183.3" cy="132.9" r="0.85" fill="rgb(113,12,14)"/>
<circle cx="68.7" cy="40.5" r="0.88" fill="rgb(153,12,14)"/>
<circle cx="204.4" cy="113.9" r="0.54" fill="rgb(123,12,14)"/>
<circle cx="51.6" cy="6.0" r="0.73" fill="rgb(113,12,14)"/>
<circle cx="24.6" cy="115.1" r="0.87" fill="rgb(165,12,14)"/>
<circle cx="106.3" cy="23.1" r="0.81" fill="rgb(99,12,14)"/>
<circle cx="122.5" cy="18.8" r="0.89" fill="rgb(133,12,14)"/>
<circle cx="99.7" cy="61.2" r="0.72" fill="rgb(167,12,14)"/>
<circle cx="97.6" cy="47.1" r="0.71" fill="rgb(163,12,14)"/>
<circle cx="87.0" cy="142.6" r="0.87" fill="rgb(116,12,14)"/>
<circle cx="184.9" cy="119.0" r="0.56" fill="rgb(94,12,14)"/>
<circle cx="214.1" cy="104.8" r="0.68" fill="rgb(163,12,14)"/>
<circle cx="130.9" cy="112.5" r="0.61" fill="rgb(149,12,14)"/>
<circle cx="58.4" cy="105.9" r="0.80" fill="rgb(138,12,14)"/>
<circle cx="30.6" cy="45.6" r="0.78" fill="rgb(148,12,14)"/>
<circle cx="23.4" cy="224.4" r="0.55" fill="rgb(103,12,14)"/>
<circle cx="20.5" cy="100.4" r="0.75" fill="rgb(158,12,14)"/>
<circle cx="37.2" cy="157.2" r="0.54" fill="rgb(136,12,14)"/>
<circle cx="57.4" cy="80.2" r="0.52" fill="rgb(147,12,14)"/>
<circle cx="27.9" cy="171.9" r="0.63" fill="rgb(137,12,14)"/>
<circle cx="145.7" cy="110.0" r="0.85" fill="rgb(163,12,14)"/>
<circle cx="64.3" cy="75.1" r="0.85" fill="rgb(100,12,14)"/>
<circle cx="95.8" cy="93.3" r="0.89" fill="rgb(100,12,14)"/>
<circle cx="149.4" cy="170.3" r="0.79" fill="rgb(90,12,14)"/>
<circle cx="215.2" cy="70.3" r="0.84" fill="rgb(142,12,14)"/>
<circle cx="95.9" cy="188.5" r="0.77" fill="rgb(117,12,14)"/>
<circle cx="166.9" cy="113.7" r="0.78" fill="rgb(139,12,14)"/>
<circle cx="181.5" cy="35.8" r="0.70" fill="rgb(90,12,14)"/>
<circle cx="180.3" cy="173.6" r="0.83" fill="rgb(93,12,14)"/>
<circle cx="122.0" cy="107.7" r="0.55" fill="rgb(106,12,14)"/>
<circle cx="222.2" cy="191.8" r="0.60" fill="rgb(156,12,14)"/>
<circle cx="148.4" cy="86.6" r="0.76" fill="rgb(108,12,14)"/>
<circle cx="62.4" cy="2.3" r="0.76" fill="rgb(136,12,14)"/>
<circle cx="169.5" cy="113.4" r="0.67" fill="rgb(114,12,14)"/>
<circle cx="167.7" cy="83.9" r="0.74" fill="rgb(150,12,14)"/>
<circle cx="101.4" cy="154.4" r="0.52" fill="rgb(110,12,14)"/>
<circle cx="191.7" cy="33.2" r="0.52" fill="rgb(91,12,14)"/>
<circle cx="174.7" cy="23.9" r="0.68" fill="rgb(125,12,14)"/>
<circle cx="183.1" cy="107.2" r="0.71" fill="rgb(91,12,14)"/>
<circle cx="181.3" cy="172.7" r="0.75" fill="rgb(156,12,14)"/>
<circle cx="140.0" cy="161.1" r="0.84" fill="rgb(139,12,14)"/>
<circle cx="4.6" cy="199.0" r="0.90" fill="rgb(106,12,14)"/>
<circle cx="15.1" cy="76.5" r="0.54" fill="rgb(119,12,14)"/>
<circle cx="20.3" cy="49.5" r="0.50" fill="rgb(124,12,14)"/>
<circle cx="68.4" cy="164.0" r="0.66" fill="rgb(103,12,14)"/>
<circle cx="217.4" cy="201.3" r="0.78" fill="rgb(107,12,14)"/>
<circle cx="91.8" cy="101.5" r="0.66" fill="rgb(92,12,14)"/>
<circle cx="103.9" cy="172.7" r="0.78" fill="rgb(158,12,14)"/>
<circle cx="155.7" cy="171.6" r="0.85" fill="rgb(163,12,14)"/>
<circle cx="180.8" cy="93.6" r="0.76" fill="rgb(142,12,14)"/>
<circle cx="201.3" cy="160.6" r="0.68" fill="rgb(105,12,14)"/>
<circle cx="74.7" cy="56.3" r="0.77" fill="rgb(151,12,14)"/>
<circle cx="43.8" cy="120.0" r="0.84" fill="rgb(119,12,14)"/>
<circle cx="21.6" cy="136.3" r="0.64" fill="rgb(101,12,14)"/>
<circle cx="65.7" cy="1.5" r="0.56" fill="rgb(124,12,14)"/>
<circle cx="23.9" cy="1.4" r="0.72" fill="rgb(166,12,14)"/>
<circle cx="190.2" cy="73.4" r="0.87" fill="rgb(96,12,14)"/>
<circle cx="34.3" cy="1.5" r="0.52" fill="rgb(138,12,14)"/>
<circle cx="172.6" cy="107.5" r="0.82" fill="rgb(126,12,14)"/>
<circle cx="209.5" cy="136.8" r="0.71" fill="rgb(103,12,14)"/>
<circle cx="97.2" cy="99.1" r="0.83" fill="rgb(108,12,14)"/>
</g>
<g filter="url(#fnd)">
<ellipse cx="78" cy="74" rx="13" ry="14.5" transform="rotate(0 78 74)" fill="#0a0000"/>
<ellipse cx="52.5" cy="77" rx="8.5" ry="7.5" transform="rotate(0 52.5 77)" fill="#0a0000"/>
<ellipse cx="36.5" cy="100.5" rx="9" ry="9" transform="rotate(0 36.5 100.5)" fill="#0a0000"/>
<ellipse cx="58" cy="98.3" rx="8.5" ry="8.5" transform="rotate(0 58 98.3)" fill="#0a0000"/>
<ellipse cx="35" cy="68" rx="7.5" ry="10" transform="rotate(0 35 68)" fill="#0a0000"/>
<ellipse cx="51" cy="58" rx="10" ry="8" transform="rotate(0 51 58)" fill="#0a0000"/>
<ellipse cx="21" cy="29" rx="11" ry="12" transform="rotate(0 21 29)" fill="#0a0000"/>
<ellipse cx="36" cy="39" rx="7" ry="8" transform="rotate(0 36 39)" fill="#0a0000"/>
<ellipse cx="72.5" cy="8.5" rx="9" ry="8" transform="rotate(0 72.5 8.5)" fill="#0a0000"/>
<ellipse cx="119.5" cy="23.5" rx="3.5" ry="4.5" transform="rotate(0 119.5 23.5)" fill="#0a0000"/>
<ellipse cx="95" cy="12" rx="3.5" ry="4" transform="rotate(0 95 12)" fill="#0a0000"/>
<ellipse cx="113.7" cy="41" rx="5" ry="5" transform="rotate(0 113.7 41)" fill="#0a0000"/>
<ellipse cx="18.8" cy="77" rx="8" ry="11" transform="rotate(0 18.8 77)" fill="#0a0000"/>
<ellipse cx="10" cy="99" rx="10" ry="10" transform="rotate(0 10 99)" fill="#0a0000"/>
<ellipse cx="144.5" cy="11.5" rx="10" ry="8.5" transform="rotate(0 144.5 11.5)" fill="#0a0000"/>
<ellipse cx="131" cy="21.5" rx="5" ry="7" transform="rotate(0 131 21.5)" fill="#0a0000"/>
<ellipse cx="140" cy="58" rx="6" ry="7" transform="rotate(0 140 58)" fill="#0a0000"/>
<ellipse cx="171" cy="42.5" rx="6" ry="6" transform="rotate(0 171 42.5)" fill="#0a0000"/>
<ellipse cx="169.5" cy="93.3" rx="7.5" ry="10" transform="rotate(-15 169.5 93.3)" fill="#0a0000"/>
<ellipse cx="191.5" cy="92.5" rx="7.5" ry="10.5" transform="rotate(20 191.5 92.5)" fill="#0a0000"/>
<ellipse cx="197" cy="108" rx="7" ry="6" transform="rotate(0 197 108)" fill="#0a0000"/>
<ellipse cx="220" cy="103" rx="7" ry="9" transform="rotate(0 220 103)" fill="#0a0000"/>
<ellipse cx="42.5" cy="124.6" rx="10" ry="10" transform="rotate(0 42.5 124.6)" fill="#0a0000"/>
<ellipse cx="27.3" cy="143" rx="13" ry="8" transform="rotate(15 27.3 143)" fill="#0a0000"/>
<ellipse cx="83" cy="157.5" rx="10" ry="12.5" transform="rotate(-25 83 157.5)" fill="#0a0000"/>
<ellipse cx="106.3" cy="155.5" rx="9.5" ry="12.5" transform="rotate(0 106.3 155.5)" fill="#0a0000"/>
<ellipse cx="109" cy="178.5" rx="9" ry="8" transform="rotate(0 109 178.5)" fill="#0a0000"/>
<ellipse cx="98" cy="198.5" rx="11.5" ry="11.5" transform="rotate(0 98 198.5)" fill="#0a0000"/>
<ellipse cx="33.6" cy="215" rx="10" ry="8" transform="rotate(0 33.6 215)" fill="#0a0000"/>
<ellipse cx="62" cy="216" rx="7" ry="7" transform="rotate(0 62 216)" fill="#0a0000"/>
<ellipse cx="6.3" cy="152" rx="7" ry="12" transform="rotate(0 6.3 152)" fill="#0a0000"/>
<ellipse cx="9.8" cy="211.8" rx="9" ry="9" transform="rotate(0 9.8 211.8)" fill="#0a0000"/>
<ellipse cx="158" cy="129.7" rx="8.5" ry="11" transform="rotate(0 158 129.7)" fill="#0a0000"/>
<ellipse cx="184.5" cy="120.3" rx="8" ry="9" transform="rotate(0 184.5 120.3)" fill="#0a0000"/>
<ellipse cx="185" cy="141.6" rx="4" ry="5" transform="rotate(0 185 141.6)" fill="#0a0000"/>
<ellipse cx="173" cy="163.7" rx="3" ry="3" transform="rotate(0 173 163.7)" fill="#0a0000"/>
<ellipse cx="191.5" cy="168" rx="8" ry="12" transform="rotate(0 191.5 168)" fill="#0a0000"/>
<ellipse cx="172.7" cy="179.2" rx="9.5" ry="11" transform="rotate(0 172.7 179.2)" fill="#0a0000"/>
<ellipse cx="141" cy="209" rx="10" ry="10" transform="rotate(0 141 209)" fill="#0a0000"/>
<ellipse cx="150.5" cy="154" rx="14" ry="10" transform="rotate(0 150.5 154)" fill="#0a0000"/>
<ellipse cx="220" cy="114" rx="6" ry="8" transform="rotate(0 220 114)" fill="#0a0000"/>
<ellipse cx="220" cy="157" rx="7" ry="10" transform="rotate(0 220 157)" fill="#0a0000"/>
<ellipse cx="117" cy="157" rx="6" ry="10" transform="rotate(0 117 157)" fill="#0a0000"/>
</g>
</g></g>
<clipPath id="clip_merge"><rect x="443.5" y="21" width="228.5" height="225.2"/></clipPath>
<rect x="443.5" y="21" width="228.5" height="225.2" fill="#04000a"/>
<g clip-path="url(#clip_merge)"><g transform="translate(443.5,21)">
<g filter="url(#fc)">
<ellipse cx="22" cy="30" rx="18" ry="19" transform="rotate(0 22 30)" fill="rgb(127,4,4)" fill-opacity="0.6" stroke="rgb(151,8,8)" stroke-opacity="0.75" stroke-width="2.0"/>
<ellipse cx="40" cy="42" rx="14" ry="15" transform="rotate(0 40 42)" fill="rgb(183,6,6)" fill-opacity="0.6" stroke="rgb(211,10,10)" stroke-opacity="0.75" stroke-width="2.0"/>
<ellipse cx="34" cy="70" rx="13" ry="15" transform="rotate(0 34 70)" fill="rgb(151,5,5)" fill-opacity="0.6" stroke="rgb(177,9,9)" stroke-opacity="0.75" stroke-width="2.0"/>
<ellipse cx="20" cy="78" rx="13" ry="15" transform="rotate(0 20 78)" fill="rgb(135,4,4)" fill-opacity="0.6" stroke="rgb(160,8,8)" stroke-opacity="0.75" stroke-width="2.0"/>
<ellipse cx="55" cy="78" rx="15" ry="13" transform="rotate(0 55 78)" fill="rgb(167,5,5)" fill-opacity="0.6" stroke="rgb(194,9,9)" stroke-opacity="0.75" stroke-width="2.0"/>
<ellipse cx="54" cy="58" rx="15" ry="12" transform="rotate(0 54 58)" fill="rgb(143,4,4)" fill-opacity="0.6" stroke="rgb(168,8,8)" stroke-opacity="0.75" stroke-width="2.0"/>
<ellipse cx="38" cy="101" rx="15" ry="15" transform="rotate(0 38 101)" fill="rgb(175,5,5)" fill-opacity="0.6" stroke="rgb(202,9,9)" stroke-opacity="0.75" stroke-width="2.0"/>
<ellipse cx="60" cy="99" rx="13" ry="13" transform="rotate(0 60 99)" fill="rgb(151,5,5)" fill-opacity="0.6" stroke="rgb(177,9,9)" stroke-opacity="0.75" stroke-width="2.0"/>
<ellipse cx="12" cy="100" rx="14" ry="14" transform="rotate(0 12 100)" fill="rgb(127,4,4)" fill-opacity="0.6" stroke="rgb(151,8,8)" stroke-opacity="0.75" stroke-width="2.0"/>
<ellipse cx="78" cy="73" rx="22" ry="22" transform="rotate(0 78 73)" fill="rgb(151,5,5)" fill-opacity="0.6" stroke="rgb(177,9,9)" stroke-opacity="0.75" stroke-width="2.0"/>
<ellipse cx="73" cy="10" rx="15" ry="12" transform="rotate(0 73 10)" fill="rgb(127,4,4)" fill-opacity="0.6" stroke="rgb(151,8,8)" stroke-opacity="0.75" stroke-width="2.0"/>
<ellipse cx="130" cy="15" rx="20" ry="14" transform="rotate(0 130 15)" fill="rgb(127,4,4)" fill-opacity="0.6" stroke="rgb(151,8,8)" stroke-opacity="0.75" stroke-width="2.0"/>
<ellipse cx="150" cy="14" rx="18" ry="14" transform="rotate(0 150 14)" fill="rgb(143,4,4)" fill-opacity="0.6" stroke="rgb(168,8,8)" stroke-opacity="0.75" stroke-width="2.0"/>
<ellipse cx="172" cy="43" rx="13" ry="13" transform="rotate(0 172 43)" fill="rgb(143,4,4)" fill-opacity="0.6" stroke="rgb(168,8,8)" stroke-opacity="0.75" stroke-width="2.0"/>
<ellipse cx="170" cy="94" rx="15" ry="16" transform="rotate(0 170 94)" fill="rgb(151,5,5)" fill-opacity="0.6" stroke="rgb(177,9,9)" stroke-opacity="0.75" stroke-width="2.0"/>
<ellipse cx="193" cy="95" rx="16" ry="17" transform="rotate(0 193 95)" fill="rgb(143,4,4)" fill-opacity="0.6" stroke="rgb(168,8,8)" stroke-opacity="0.75" stroke-width="2.0"/>
<ellipse cx="205" cy="115" rx="18" ry="18" transform="rotate(0 205 115)" fill="rgb(127,4,4)" fill-opacity="0.6" stroke="rgb(151,8,8)" stroke-opacity="0.75" stroke-width="2.0"/>
<ellipse cx="43" cy="124" rx="16" ry="16" transform="rotate(0 43 124)" fill="rgb(183,6,6)" fill-opacity="0.6" stroke="rgb(211,10,10)" stroke-opacity="0.75" stroke-width="2.0"/>
<ellipse cx="28" cy="143" rx="19" ry="14" transform="rotate(15 28 143)" fill="rgb(167,5,5)" fill-opacity="0.6" stroke="rgb(194,9,9)" stroke-opacity="0.75" stroke-width="2.0"/>
<ellipse cx="84" cy="156" rx="18" ry="19" transform="rotate(-25 84 156)" fill="rgb(183,6,6)" fill-opacity="0.6" stroke="rgb(211,10,10)" stroke-opacity="0.75" stroke-width="2.0"/>
<ellipse cx="100" cy="136" rx="20" ry="12" transform="rotate(0 100 136)" fill="rgb(215,7,7)" fill-opacity="0.6" stroke="rgb(245,11,11)" stroke-opacity="0.75" stroke-width="2.0"/>
<ellipse cx="97" cy="130" rx="12" ry="8" transform="rotate(0 97 130)" fill="rgb(215,7,7)" fill-opacity="0.6" stroke="rgb(245,11,11)" stroke-opacity="0.75" stroke-width="2.0"/>
<ellipse cx="107" cy="156" rx="15" ry="18" transform="rotate(0 107 156)" fill="rgb(151,5,5)" fill-opacity="0.6" stroke="rgb(177,9,9)" stroke-opacity="0.75" stroke-width="2.0"/>
<ellipse cx="109" cy="180" rx="14" ry="13" transform="rotate(0 109 180)" fill="rgb(151,5,5)" fill-opacity="0.6" stroke="rgb(177,9,9)" stroke-opacity="0.75" stroke-width="2.0"/>
<ellipse cx="98" cy="199" rx="17" ry="16" transform="rotate(0 98 199)" fill="rgb(159,5,5)" fill-opacity="0.6" stroke="rgb(185,9,9)" stroke-opacity="0.75" stroke-width="2.0"/>
<ellipse cx="34" cy="215" rx="17" ry="15" transform="rotate(0 34 215)" fill="rgb(159,5,5)" fill-opacity="0.6" stroke="rgb(185,9,9)" stroke-opacity="0.75" stroke-width="2.0"/>
<ellipse cx="62" cy="216" rx="13" ry="12" transform="rotate(0 62 216)" fill="rgb(127,4,4)" fill-opacity="0.6" stroke="rgb(151,8,8)" stroke-opacity="0.75" stroke-width="2.0"/>
<ellipse cx="8" cy="152" rx="13" ry="17" transform="rotate(0 8 152)" fill="rgb(143,4,4)" fill-opacity="0.6" stroke="rgb(168,8,8)" stroke-opacity="0.75" stroke-width="2.0"/>
<ellipse cx="10" cy="212" rx="14" ry="14" transform="rotate(0 10 212)" fill="rgb(143,4,4)" fill-opacity="0.6" stroke="rgb(168,8,8)" stroke-opacity="0.75" stroke-width="2.0"/>
<ellipse cx="158" cy="130" rx="14" ry="16" transform="rotate(0 158 130)" fill="rgb(159,5,5)" fill-opacity="0.6" stroke="rgb(185,9,9)" stroke-opacity="0.75" stroke-width="2.0"/>
<ellipse cx="185" cy="122" rx="14" ry="14" transform="rotate(0 185 122)" fill="rgb(127,4,4)" fill-opacity="0.6" stroke="rgb(151,8,8)" stroke-opacity="0.75" stroke-width="2.0"/>
<ellipse cx="150" cy="154" rx="20" ry="16" transform="rotate(0 150 154)" fill="rgb(191,6,6)" fill-opacity="0.6" stroke="rgb(219,10,10)" stroke-opacity="0.75" stroke-width="2.0"/>
<ellipse cx="190" cy="168" rx="14" ry="18" transform="rotate(0 190 168)" fill="rgb(95,3,3)" fill-opacity="0.6" stroke="rgb(117,7,7)" stroke-opacity="0.75" stroke-width="2.0"/>
<ellipse cx="173" cy="180" rx="15" ry="16" transform="rotate(0 173 180)" fill="rgb(103,3,3)" fill-opacity="0.6" stroke="rgb(126,7,7)" stroke-opacity="0.75" stroke-width="2.0"/>
<ellipse cx="141" cy="209" rx="16" ry="16" transform="rotate(0 141 209)" fill="rgb(143,4,4)" fill-opacity="0.6" stroke="rgb(168,8,8)" stroke-opacity="0.75" stroke-width="2.0"/>
<ellipse cx="218" cy="110" rx="12" ry="14" transform="rotate(0 218 110)" fill="rgb(103,3,3)" fill-opacity="0.6" stroke="rgb(126,7,7)" stroke-opacity="0.75" stroke-width="2.0"/>
<ellipse cx="218" cy="157" rx="12" ry="15" transform="rotate(0 218 157)" fill="rgb(90,3,3)" fill-opacity="0.6" stroke="rgb(112,7,7)" stroke-opacity="0.75" stroke-width="2.0"/>
<ellipse cx="117" cy="157" rx="11" ry="15" transform="rotate(0 117 157)" fill="rgb(151,5,5)" fill-opacity="0.6" stroke="rgb(177,9,9)" stroke-opacity="0.75" stroke-width="2.0"/>
<ellipse cx="185" cy="141" rx="9" ry="9" transform="rotate(0 185 141)" fill="rgb(135,4,4)" fill-opacity="0.6" stroke="rgb(160,8,8)" stroke-opacity="0.75" stroke-width="2.0"/>
</g>
<g filter="url(#fv)">
<ellipse cx="122" cy="96" rx="33" ry="46" fill="#04000a" fill-opacity="0.85"/>
<ellipse cx="98" cy="35" rx="20" ry="14" fill="#04000a" fill-opacity="0.85"/>
<ellipse cx="40" cy="183" rx="28" ry="20" fill="#04000a" fill-opacity="0.85"/>
<ellipse cx="205" cy="60" rx="22" ry="15" fill="#04000a" fill-opacity="0.85"/>
<ellipse cx="180" cy="220" rx="30" ry="12" fill="#04000a" fill-opacity="0.85"/>
</g>
<g filter="url(#fc)">
<ellipse cx="140" cy="58" rx="10" ry="11" transform="rotate(0 140 58)" fill="rgb(207,6,6)" fill-opacity="0.55" stroke="rgb(236,10,10)" stroke-opacity="0.9" stroke-width="2.6"/>
</g>
<g filter="url(#fsp)">
<circle cx="8.5" cy="16.1" r="0.82" fill="rgb(156,12,14)"/>
<circle cx="20.7" cy="8.8" r="0.51" fill="rgb(133,12,14)"/>
<circle cx="39.0" cy="23.3" r="0.86" fill="rgb(115,12,14)"/>
<circle cx="7.0" cy="33.1" r="0.72" fill="rgb(138,12,14)"/>
<circle cx="37.0" cy="31.3" r="0.61" fill="rgb(155,12,14)"/>
<circle cx="23.4" cy="14.6" r="0.82" fill="rgb(116,12,14)"/>
<circle cx="31.7" cy="33.9" r="0.50" fill="rgb(186,12,14)"/>
<circle cx="43.0" cy="54.1" r="0.89" fill="rgb(186,12,14)"/>
<circle cx="36.1" cy="58.5" r="0.72" fill="rgb(169,12,14)"/>
<circle cx="44.4" cy="58.2" r="0.78" fill="rgb(195,12,14)"/>
<circle cx="49.6" cy="33.9" r="0.64" fill="rgb(124,12,14)"/>
<circle cx="46.6" cy="51.2" r="0.62" fill="rgb(163,12,14)"/>
<circle cx="54.3" cy="42.3" r="0.64" fill="rgb(137,12,14)"/>
<circle cx="45.5" cy="29.2" r="0.63" fill="rgb(152,12,14)"/>
<circle cx="31.2" cy="58.9" r="0.89" fill="rgb(111,12,14)"/>
<circle cx="34.0" cy="53.7" r="0.51" fill="rgb(161,12,14)"/>
<circle cx="25.5" cy="81.0" r="0.50" fill="rgb(113,12,14)"/>
<circle cx="40.2" cy="85.4" r="0.58" fill="rgb(159,12,14)"/>
<circle cx="47.2" cy="62.8" r="0.64" fill="rgb(133,12,14)"/>
<circle cx="20.4" cy="67.5" r="0.54" fill="rgb(159,12,14)"/>
<circle cx="38.2" cy="54.3" r="0.51" fill="rgb(172,12,14)"/>
<circle cx="29.7" cy="85.2" r="0.74" fill="rgb(160,12,14)"/>
<circle cx="12.2" cy="92.2" r="0.72" fill="rgb(127,12,14)"/>
<circle cx="15.7" cy="89.2" r="0.53" fill="rgb(118,12,14)"/>
<circle cx="14.4" cy="62.0" r="0.56" fill="rgb(112,12,14)"/>
<circle cx="32.5" cy="76.8" r="0.66" fill="rgb(123,12,14)"/>
<circle cx="8.3" cy="69.0" r="0.68" fill="rgb(133,12,14)"/>
<circle cx="33.6" cy="83.7" r="0.51" fill="rgb(137,12,14)"/>
<circle cx="61.3" cy="69.1" r="0.79" fill="rgb(183,12,14)"/>
<circle cx="44.1" cy="67.9" r="0.54" fill="rgb(143,12,14)"/>
<circle cx="64.7" cy="89.4" r="0.62" fill="rgb(144,12,14)"/>
<circle cx="71.4" cy="77.9" r="0.89" fill="rgb(144,12,14)"/>
<circle cx="39.4" cy="79.0" r="0.69" fill="rgb(132,12,14)"/>
<circle cx="45.0" cy="84.0" r="0.65" fill="rgb(186,12,14)"/>
<circle cx="69.5" cy="74.7" r="0.70" fill="rgb(136,12,14)"/>
<circle cx="65.9" cy="83.9" r="0.81" fill="rgb(176,12,14)"/>
<circle cx="43.7" cy="67.8" r="0.81" fill="rgb(152,12,14)"/>
<circle cx="45.9" cy="47.2" r="0.65" fill="rgb(152,12,14)"/>
<circle cx="51.3" cy="69.1" r="0.81" fill="rgb(151,12,14)"/>
<circle cx="49.4" cy="71.0" r="0.76" fill="rgb(145,12,14)"/>
<circle cx="68.5" cy="58.8" r="0.60" fill="rgb(150,12,14)"/>
<circle cx="38.3" cy="61.0" r="0.76" fill="rgb(158,12,14)"/>
<circle cx="45.3" cy="67.9" r="0.80" fill="rgb(160,12,14)"/>
<circle cx="28.4" cy="114.2" r="0.85" fill="rgb(166,12,14)"/>
<circle cx="54.8" cy="98.5" r="0.71" fill="rgb(153,12,14)"/>
<circle cx="46.2" cy="115.1" r="0.87" fill="rgb(149,12,14)"/>
<circle cx="32.4" cy="86.5" r="0.79" fill="rgb(124,12,14)"/>
<circle cx="40.8" cy="86.5" r="0.77" fill="rgb(144,12,14)"/>
<circle cx="26.7" cy="89.8" r="0.75" fill="rgb(169,12,14)"/>
<circle cx="50.0" cy="103.1" r="0.68" fill="rgb(163,12,14)"/>
<circle cx="41.0" cy="116.1" r="0.75" fill="rgb(113,12,14)"/>
<circle cx="49.2" cy="100.9" r="0.52" fill="rgb(118,12,14)"/>
<circle cx="55.6" cy="108.8" r="0.58" fill="rgb(112,12,14)"/>
<circle cx="48.5" cy="101.5" r="0.74" fill="rgb(148,12,14)"/>
<circle cx="61.1" cy="113.4" r="0.50" fill="rgb(136,12,14)"/>
<circle cx="57.9" cy="110.7" r="0.55" fill="rgb(164,12,14)"/>
<circle cx="53.0" cy="106.1" r="0.75" fill="rgb(116,12,14)"/>
<circle cx="48.9" cy="95.8" r="0.73" fill="rgb(173,12,14)"/>
<circle cx="17.4" cy="88.3" r="0.83" fill="rgb(141,12,14)"/>
<circle cx="4.3" cy="108.3" r="0.74" fill="rgb(137,12,14)"/>
<circle cx="27.3" cy="95.8" r="0.74" fill="rgb(127,12,14)"/>
<circle cx="20.2" cy="93.5" r="0.54" fill="rgb(138,12,14)"/>
<circle cx="3.5" cy="92.5" r="0.75" fill="rgb(154,12,14)"/>
<circle cx="2.8" cy="109.1" r="0.59" fill="rgb(124,12,14)"/>
<circle cx="97.5" cy="69.6" r="0.88" fill="rgb(170,12,14)"/>
<circle cx="62.5" cy="62.4" r="0.89" fill="rgb(142,12,14)"/>
<circle cx="61.4" cy="82.8" r="0.89" fill="rgb(142,12,14)"/>
<circle cx="73.3" cy="93.2" r="0.55" fill="rgb(151,12,14)"/>
<circle cx="60.1" cy="79.6" r="0.81" fill="rgb(164,12,14)"/>
<circle cx="99.1" cy="74.8" r="0.61" fill="rgb(171,12,14)"/>
<circle cx="81.7" cy="54.7" r="0.61" fill="rgb(120,12,14)"/>
<circle cx="86.0" cy="9.3" r="0.74" fill="rgb(133,12,14)"/>
<circle cx="63.9" cy="0.6" r="0.80" fill="rgb(115,12,14)"/>
<circle cx="73.9" cy="-0.4" r="0.71" fill="rgb(126,12,14)"/>
<circle cx="68.8" cy="21.0" r="0.69" fill="rgb(127,12,14)"/>
<circle cx="72.5" cy="-1.8" r="0.51" fill="rgb(122,12,14)"/>
<circle cx="56.9" cy="13.7" r="0.86" fill="rgb(137,12,14)"/>
<circle cx="151.1" cy="16.4" r="0.67" fill="rgb(138,12,14)"/>
<circle cx="124.8" cy="1.4" r="0.69" fill="rgb(155,12,14)"/>
<circle cx="116.4" cy="23.4" r="0.84" fill="rgb(119,12,14)"/>
<circle cx="123.8" cy="29.5" r="0.53" fill="rgb(151,12,14)"/>
<circle cx="123.7" cy="2.9" r="0.61" fill="rgb(148,12,14)"/>
<circle cx="143.7" cy="9.0" r="0.69" fill="rgb(137,12,14)"/>
<circle cx="134.1" cy="14.2" r="0.56" fill="rgb(145,12,14)"/>
<circle cx="155.3" cy="3.9" r="0.59" fill="rgb(159,12,14)"/>
<circle cx="154.7" cy="0.3" r="0.51" fill="rgb(153,12,14)"/>
<circle cx="170.5" cy="11.9" r="0.78" fill="rgb(112,12,14)"/>
<circle cx="158.2" cy="4.2" r="0.76" fill="rgb(167,12,14)"/>
<circle cx="146.6" cy="3.1" r="0.62" fill="rgb(165,12,14)"/>
<circle cx="160.5" cy="25.2" r="0.67" fill="rgb(119,12,14)"/>
<circle cx="164.8" cy="36.1" r="0.54" fill="rgb(132,12,14)"/>
<circle cx="181.0" cy="47.4" r="0.73" fill="rgb(154,12,14)"/>
<circle cx="179.5" cy="35.8" r="0.67" fill="rgb(129,12,14)"/>
<circle cx="162.1" cy="35.8" r="0.88" fill="rgb(132,12,14)"/>
<circle cx="184.6" cy="47.6" r="0.56" fill="rgb(148,12,14)"/>
<circle cx="157.5" cy="42.5" r="0.72" fill="rgb(147,12,14)"/>
<circle cx="171.0" cy="55.6" r="0.60" fill="rgb(155,12,14)"/>
<circle cx="158.0" cy="92.6" r="0.59" fill="rgb(134,12,14)"/>
<circle cx="169.0" cy="80.9" r="0.79" fill="rgb(153,12,14)"/>
<circle cx="183.1" cy="102.3" r="0.54" fill="rgb(118,12,14)"/>
<circle cx="159.5" cy="86.5" r="0.85" fill="rgb(141,12,14)"/>
<circle cx="162.9" cy="109.3" r="0.51" fill="rgb(157,12,14)"/>
<circle cx="181.5" cy="98.3" r="0.88" fill="rgb(154,12,14)"/>
<circle cx="172.0" cy="106.6" r="0.89" fill="rgb(153,12,14)"/>
<circle cx="198.5" cy="82.6" r="0.75" fill="rgb(131,12,14)"/>
<circle cx="194.3" cy="109.9" r="0.75" fill="rgb(131,12,14)"/>
<circle cx="183.3" cy="104.0" r="0.83" fill="rgb(149,12,14)"/>
<circle cx="198.0" cy="80.2" r="0.84" fill="rgb(141,12,14)"/>
<circle cx="179.9" cy="85.8" r="0.80" fill="rgb(133,12,14)"/>
<circle cx="203.0" cy="102.4" r="0.58" fill="rgb(112,12,14)"/>
<circle cx="204.6" cy="84.7" r="0.80" fill="rgb(110,12,14)"/>
<circle cx="185.4" cy="118.7" r="0.75" fill="rgb(131,12,14)"/>
<circle cx="191.1" cy="118.1" r="0.56" fill="rgb(117,12,14)"/>
<circle cx="193.5" cy="126.5" r="0.85" fill="rgb(117,12,14)"/>
<circle cx="204.6" cy="130.5" r="0.56" fill="rgb(124,12,14)"/>
<circle cx="206.6" cy="131.9" r="0.51" fill="rgb(155,12,14)"/>
<circle cx="191.2" cy="129.9" r="0.78" fill="rgb(143,12,14)"/>
<circle cx="25.2" cy="127.2" r="0.55" fill="rgb(168,12,14)"/>
<circle cx="38.8" cy="139.8" r="0.79" fill="rgb(124,12,14)"/>
<circle cx="46.7" cy="135.6" r="0.59" fill="rgb(116,12,14)"/>
<circle cx="28.2" cy="134.6" r="0.65" fill="rgb(137,12,14)"/>
<circle cx="29.5" cy="126.8" r="0.79" fill="rgb(173,12,14)"/>
<circle cx="50.0" cy="135.6" r="0.77" fill="rgb(192,12,14)"/>
<circle cx="34.0" cy="112.3" r="0.89" fill="rgb(110,12,14)"/>
<circle cx="58.8" cy="130.3" r="0.66" fill="rgb(113,12,14)"/>
<circle cx="7.2" cy="138.2" r="0.71" fill="rgb(136,12,14)"/>
<circle cx="40.3" cy="149.1" r="0.86" fill="rgb(147,12,14)"/>
<circle cx="41.5" cy="138.8" r="0.60" fill="rgb(113,12,14)"/>
<circle cx="16.2" cy="149.5" r="0.60" fill="rgb(141,12,14)"/>
<circle cx="23.0" cy="153.1" r="0.52" fill="rgb(184,12,14)"/>
<circle cx="35.8" cy="155.1" r="0.66" fill="rgb(150,12,14)"/>
<circle cx="42.4" cy="149.2" r="0.54" fill="rgb(151,12,14)"/>
<circle cx="44.5" cy="136.4" r="0.84" fill="rgb(126,12,14)"/>
<circle cx="101.3" cy="158.0" r="0.69" fill="rgb(160,12,14)"/>
<circle cx="71.1" cy="169.3" r="0.79" fill="rgb(190,12,14)"/>
<circle cx="78.1" cy="172.5" r="0.83" fill="rgb(129,12,14)"/>
<circle cx="95.8" cy="167.0" r="0.54" fill="rgb(177,12,14)"/>
<circle cx="90.7" cy="140.9" r="0.55" fill="rgb(117,12,14)"/>
<circle cx="84.5" cy="170.9" r="0.67" fill="rgb(160,12,14)"/>
<circle cx="84.4" cy="170.7" r="0.78" fill="rgb(114,12,14)"/>
<circle cx="88.8" cy="171.6" r="0.65" fill="rgb(118,12,14)"/>
<circle cx="84.6" cy="141.0" r="0.80" fill="rgb(171,12,14)"/>
<circle cx="116.1" cy="128.6" r="0.80" fill="rgb(173,12,14)"/>
<circle cx="79.9" cy="140.6" r="0.76" fill="rgb(215,12,14)"/>
<circle cx="97.2" cy="123.8" r="0.61" fill="rgb(199,12,14)"/>
<circle cx="88.1" cy="142.5" r="0.53" fill="rgb(128,12,14)"/>
<circle cx="98.4" cy="148.2" r="0.61" fill="rgb(116,12,14)"/>
<circle cx="101.7" cy="124.4" r="0.51" fill="rgb(115,12,14)"/>
<circle cx="112.2" cy="143.8" r="0.84" fill="rgb(214,12,14)"/>
<circle cx="87.2" cy="129.5" r="0.67" fill="rgb(149,12,14)"/>
<circle cx="92.7" cy="143.9" r="0.73" fill="rgb(200,12,14)"/>
<circle cx="95.6" cy="123.8" r="0.71" fill="rgb(128,12,14)"/>
<circle cx="94.2" cy="122.8" r="0.88" fill="rgb(197,12,14)"/>
<circle cx="104.8" cy="134.7" r="0.87" fill="rgb(160,12,14)"/>
<circle cx="86.8" cy="133.0" r="0.81" fill="rgb(212,12,14)"/>
<circle cx="83.6" cy="128.1" r="0.74" fill="rgb(121,12,14)"/>
<circle cx="101.3" cy="123.2" r="0.52" fill="rgb(217,12,14)"/>
<circle cx="108.5" cy="131.6" r="0.69" fill="rgb(206,12,14)"/>
<circle cx="89.2" cy="134.2" r="0.61" fill="rgb(132,12,14)"/>
<circle cx="87.1" cy="127.3" r="0.80" fill="rgb(136,12,14)"/>
<circle cx="90.9" cy="135.5" r="0.89" fill="rgb(202,12,14)"/>
<circle cx="115.8" cy="141.5" r="0.66" fill="rgb(119,12,14)"/>
<circle cx="114.0" cy="141.2" r="0.52" fill="rgb(121,12,14)"/>
<circle cx="119.7" cy="166.9" r="0.86" fill="rgb(123,12,14)"/>
<circle cx="110.8" cy="140.9" r="0.77" fill="rgb(166,12,14)"/>
<circle cx="95.5" cy="142.5" r="0.65" fill="rgb(110,12,14)"/>
<circle cx="92.3" cy="154.7" r="0.57" fill="rgb(135,12,14)"/>
<circle cx="102.3" cy="168.5" r="0.62" fill="rgb(135,12,14)"/>
<circle cx="94.7" cy="182.0" r="0.66" fill="rgb(174,12,14)"/>
<circle cx="115.3" cy="166.7" r="0.78" fill="rgb(154,12,14)"/>
<circle cx="94.4" cy="176.8" r="0.65" fill="rgb(149,12,14)"/>
<circle cx="103.2" cy="168.7" r="0.61" fill="rgb(115,12,14)"/>
<circle cx="119.7" cy="186.0" r="0.73" fill="rgb(160,12,14)"/>
<circle cx="106.3" cy="168.9" r="0.87" fill="rgb(128,12,14)"/>
<circle cx="106.7" cy="170.1" r="0.80" fill="rgb(154,12,14)"/>
<circle cx="116.2" cy="194.3" r="0.78" fill="rgb(169,12,14)"/>
<circle cx="96.8" cy="183.1" r="0.58" fill="rgb(146,12,14)"/>
<circle cx="109.4" cy="190.8" r="0.89" fill="rgb(148,12,14)"/>
<circle cx="88.0" cy="206.5" r="0.66" fill="rgb(122,12,14)"/>
<circle cx="87.2" cy="184.4" r="0.86" fill="rgb(153,12,14)"/>
<circle cx="87.8" cy="207.3" r="0.78" fill="rgb(149,12,14)"/>
<circle cx="94.7" cy="184.9" r="0.85" fill="rgb(125,12,14)"/>
<circle cx="29.0" cy="227.1" r="0.75" fill="rgb(174,12,14)"/>
<circle cx="42.5" cy="228.1" r="0.81" fill="rgb(126,12,14)"/>
<circle cx="49.3" cy="220.6" r="0.83" fill="rgb(172,12,14)"/>
<circle cx="31.9" cy="201.4" r="0.67" fill="rgb(147,12,14)"/>
<circle cx="46.2" cy="207.6" r="0.61" fill="rgb(153,12,14)"/>
<circle cx="47.7" cy="212.4" r="0.51" fill="rgb(118,12,14)"/>
<circle cx="18.4" cy="209.3" r="0.57" fill="rgb(123,12,14)"/>
<circle cx="51.1" cy="209.2" r="0.78" fill="rgb(146,12,14)"/>
<circle cx="73.4" cy="220.3" r="0.83" fill="rgb(157,12,14)"/>
<circle cx="56.1" cy="227.9" r="0.76" fill="rgb(155,12,14)"/>
<circle cx="63.8" cy="228.2" r="0.84" fill="rgb(133,12,14)"/>
<circle cx="70.7" cy="221.9" r="0.56" fill="rgb(114,12,14)"/>
<circle cx="69.5" cy="225.8" r="0.54" fill="rgb(147,12,14)"/>
<circle cx="6.8" cy="133.8" r="0.82" fill="rgb(153,12,14)"/>
<circle cx="21.1" cy="143.2" r="0.75" fill="rgb(168,12,14)"/>
<circle cx="16.2" cy="160.1" r="0.53" fill="rgb(122,12,14)"/>
<circle cx="-0.6" cy="163.3" r="0.77" fill="rgb(154,12,14)"/>
<circle cx="18.2" cy="159.8" r="0.72" fill="rgb(132,12,14)"/>
<circle cx="17.5" cy="163.3" r="0.65" fill="rgb(151,12,14)"/>
<circle cx="-6.8" cy="152.5" r="0.88" fill="rgb(114,12,14)"/>
<circle cx="10.9" cy="197.5" r="0.62" fill="rgb(117,12,14)"/>
<circle cx="-2.4" cy="213.6" r="0.79" fill="rgb(165,12,14)"/>
<circle cx="1.1" cy="220.2" r="0.70" fill="rgb(152,12,14)"/>
<circle cx="13.3" cy="198.7" r="0.62" fill="rgb(130,12,14)"/>
<circle cx="17.7" cy="201.1" r="0.52" fill="rgb(135,12,14)"/>
<circle cx="11.1" cy="226.2" r="0.53" fill="rgb(126,12,14)"/>
<circle cx="20.8" cy="219.5" r="0.89" fill="rgb(142,12,14)"/>
<circle cx="146.1" cy="141.8" r="0.54" fill="rgb(135,12,14)"/>
<circle cx="161.9" cy="118.8" r="0.81" fill="rgb(135,12,14)"/>
<circle cx="169.8" cy="131.4" r="0.68" fill="rgb(137,12,14)"/>
<circle cx="147.3" cy="128.7" r="0.59" fill="rgb(179,12,14)"/>
<circle cx="145.7" cy="135.3" r="0.53" fill="rgb(129,12,14)"/>
<circle cx="171.8" cy="125.4" r="0.70" fill="rgb(113,12,14)"/>
<circle cx="146.4" cy="140.6" r="0.67" fill="rgb(152,12,14)"/>
<circle cx="196.5" cy="113.9" r="0.75" fill="rgb(111,12,14)"/>
<circle cx="199.6" cy="124.2" r="0.67" fill="rgb(153,12,14)"/>
<circle cx="192.2" cy="108.1" r="0.65" fill="rgb(159,12,14)"/>
<circle cx="185.6" cy="106.5" r="0.56" fill="rgb(148,12,14)"/>
<circle cx="170.9" cy="129.5" r="0.90" fill="rgb(120,12,14)"/>
<circle cx="174.4" cy="127.7" r="0.69" fill="rgb(124,12,14)"/>
<circle cx="142.0" cy="142.9" r="0.57" fill="rgb(152,12,14)"/>
<circle cx="166.1" cy="160.5" r="0.86" fill="rgb(192,12,14)"/>
<circle cx="155.0" cy="165.4" r="0.83" fill="rgb(199,12,14)"/>
<circle cx="136.9" cy="146.5" r="0.59" fill="rgb(196,12,14)"/>
<circle cx="164.1" cy="149.3" r="0.57" fill="rgb(150,12,14)"/>
<circle cx="147.8" cy="170.7" r="0.65" fill="rgb(182,12,14)"/>
<circle cx="161.1" cy="166.5" r="0.89" fill="rgb(175,12,14)"/>
<circle cx="163.4" cy="160.8" r="0.76" fill="rgb(145,12,14)"/>
<circle cx="137.2" cy="165.1" r="0.73" fill="rgb(200,12,14)"/>
<circle cx="190.8" cy="185.6" r="0.61" fill="rgb(124,12,14)"/>
<circle cx="188.7" cy="153.6" r="0.69" fill="rgb(129,12,14)"/>
<circle cx="204.8" cy="169.0" r="0.67" fill="rgb(123,12,14)"/>
<circle cx="178.5" cy="155.7" r="0.52" fill="rgb(123,12,14)"/>
<circle cx="202.3" cy="171.9" r="0.64" fill="rgb(110,12,14)"/>
<circle cx="168.9" cy="194.2" r="0.76" fill="rgb(140,12,14)"/>
<circle cx="163.1" cy="191.2" r="0.79" fill="rgb(140,12,14)"/>
<circle cx="189.3" cy="174.3" r="0.62" fill="rgb(115,12,14)"/>
<circle cx="183.7" cy="174.8" r="0.68" fill="rgb(134,12,14)"/>
<circle cx="159.6" cy="177.4" r="0.87" fill="rgb(119,12,14)"/>
<circle cx="124.6" cy="203.5" r="0.56" fill="rgb(131,12,14)"/>
<circle cx="125.4" cy="209.6" r="0.58" fill="rgb(137,12,14)"/>
<circle cx="152.7" cy="213.6" r="0.64" fill="rgb(118,12,14)"/>
<circle cx="154.4" cy="206.2" r="0.61" fill="rgb(157,12,14)"/>
<circle cx="140.2" cy="195.3" r="0.83" fill="rgb(147,12,14)"/>
<circle cx="128.7" cy="219.3" r="0.60" fill="rgb(125,12,14)"/>
<circle cx="151.6" cy="198.6" r="0.86" fill="rgb(120,12,14)"/>
<circle cx="224.0" cy="118.2" r="0.80" fill="rgb(128,12,14)"/>
<circle cx="227.2" cy="110.7" r="0.83" fill="rgb(126,12,14)"/>
<circle cx="224.3" cy="102.2" r="0.74" fill="rgb(113,12,14)"/>
<circle cx="215.8" cy="96.3" r="0.74" fill="rgb(117,12,14)"/>
<circle cx="227.0" cy="106.5" r="0.53" fill="rgb(132,12,14)"/>
<circle cx="225.8" cy="163.4" r="0.68" fill="rgb(125,12,14)"/>
<circle cx="227.7" cy="147.2" r="0.53" fill="rgb(125,12,14)"/>
<circle cx="223.3" cy="147.0" r="0.80" fill="rgb(116,12,14)"/>
<circle cx="215.3" cy="167.7" r="0.80" fill="rgb(122,12,14)"/>
<circle cx="227.2" cy="148.9" r="0.56" fill="rgb(115,12,14)"/>
<circle cx="116.0" cy="173.9" r="0.58" fill="rgb(115,12,14)"/>
<circle cx="111.8" cy="166.4" r="0.67" fill="rgb(151,12,14)"/>
<circle cx="111.7" cy="147.0" r="0.56" fill="rgb(142,12,14)"/>
<circle cx="113.1" cy="144.1" r="0.73" fill="rgb(170,12,14)"/>
<circle cx="122.8" cy="167.2" r="0.70" fill="rgb(145,12,14)"/>
<circle cx="125.7" cy="148.4" r="0.76" fill="rgb(137,12,14)"/>
<circle cx="119.5" cy="141.1" r="0.62" fill="rgb(117,12,14)"/>
<circle cx="184.5" cy="149.0" r="0.86" fill="rgb(124,12,14)"/>
<circle cx="178.8" cy="134.4" r="0.88" fill="rgb(116,12,14)"/>
<circle cx="186.0" cy="133.1" r="0.54" fill="rgb(144,12,14)"/>
<circle cx="189.9" cy="133.7" r="0.52" fill="rgb(163,12,14)"/>
<circle cx="178.3" cy="147.0" r="0.79" fill="rgb(124,12,14)"/>
<circle cx="178.3" cy="145.3" r="0.54" fill="rgb(113,12,14)"/>
<circle cx="183.3" cy="132.9" r="0.85" fill="rgb(113,12,14)"/>
<circle cx="68.7" cy="40.5" r="0.88" fill="rgb(153,12,14)"/>
<circle cx="204.4" cy="113.9" r="0.54" fill="rgb(123,12,14)"/>
<circle cx="51.6" cy="6.0" r="0.73" fill="rgb(113,12,14)"/>
<circle cx="24.6" cy="115.1" r="0.87" fill="rgb(165,12,14)"/>
<circle cx="106.3" cy="23.1" r="0.81" fill="rgb(99,12,14)"/>
<circle cx="122.5" cy="18.8" r="0.89" fill="rgb(133,12,14)"/>
<circle cx="99.7" cy="61.2" r="0.72" fill="rgb(167,12,14)"/>
<circle cx="97.6" cy="47.1" r="0.71" fill="rgb(163,12,14)"/>
<circle cx="87.0" cy="142.6" r="0.87" fill="rgb(116,12,14)"/>
<circle cx="184.9" cy="119.0" r="0.56" fill="rgb(94,12,14)"/>
<circle cx="214.1" cy="104.8" r="0.68" fill="rgb(163,12,14)"/>
<circle cx="130.9" cy="112.5" r="0.61" fill="rgb(149,12,14)"/>
<circle cx="58.4" cy="105.9" r="0.80" fill="rgb(138,12,14)"/>
<circle cx="30.6" cy="45.6" r="0.78" fill="rgb(148,12,14)"/>
<circle cx="23.4" cy="224.4" r="0.55" fill="rgb(103,12,14)"/>
<circle cx="20.5" cy="100.4" r="0.75" fill="rgb(158,12,14)"/>
<circle cx="37.2" cy="157.2" r="0.54" fill="rgb(136,12,14)"/>
<circle cx="57.4" cy="80.2" r="0.52" fill="rgb(147,12,14)"/>
<circle cx="27.9" cy="171.9" r="0.63" fill="rgb(137,12,14)"/>
<circle cx="145.7" cy="110.0" r="0.85" fill="rgb(163,12,14)"/>
<circle cx="64.3" cy="75.1" r="0.85" fill="rgb(100,12,14)"/>
<circle cx="95.8" cy="93.3" r="0.89" fill="rgb(100,12,14)"/>
<circle cx="149.4" cy="170.3" r="0.79" fill="rgb(90,12,14)"/>
<circle cx="215.2" cy="70.3" r="0.84" fill="rgb(142,12,14)"/>
<circle cx="95.9" cy="188.5" r="0.77" fill="rgb(117,12,14)"/>
<circle cx="166.9" cy="113.7" r="0.78" fill="rgb(139,12,14)"/>
<circle cx="181.5" cy="35.8" r="0.70" fill="rgb(90,12,14)"/>
<circle cx="180.3" cy="173.6" r="0.83" fill="rgb(93,12,14)"/>
<circle cx="122.0" cy="107.7" r="0.55" fill="rgb(106,12,14)"/>
<circle cx="222.2" cy="191.8" r="0.60" fill="rgb(156,12,14)"/>
<circle cx="148.4" cy="86.6" r="0.76" fill="rgb(108,12,14)"/>
<circle cx="62.4" cy="2.3" r="0.76" fill="rgb(136,12,14)"/>
<circle cx="169.5" cy="113.4" r="0.67" fill="rgb(114,12,14)"/>
<circle cx="167.7" cy="83.9" r="0.74" fill="rgb(150,12,14)"/>
<circle cx="101.4" cy="154.4" r="0.52" fill="rgb(110,12,14)"/>
<circle cx="191.7" cy="33.2" r="0.52" fill="rgb(91,12,14)"/>
<circle cx="174.7" cy="23.9" r="0.68" fill="rgb(125,12,14)"/>
<circle cx="183.1" cy="107.2" r="0.71" fill="rgb(91,12,14)"/>
<circle cx="181.3" cy="172.7" r="0.75" fill="rgb(156,12,14)"/>
<circle cx="140.0" cy="161.1" r="0.84" fill="rgb(139,12,14)"/>
<circle cx="4.6" cy="199.0" r="0.90" fill="rgb(106,12,14)"/>
<circle cx="15.1" cy="76.5" r="0.54" fill="rgb(119,12,14)"/>
<circle cx="20.3" cy="49.5" r="0.50" fill="rgb(124,12,14)"/>
<circle cx="68.4" cy="164.0" r="0.66" fill="rgb(103,12,14)"/>
<circle cx="217.4" cy="201.3" r="0.78" fill="rgb(107,12,14)"/>
<circle cx="91.8" cy="101.5" r="0.66" fill="rgb(92,12,14)"/>
<circle cx="103.9" cy="172.7" r="0.78" fill="rgb(158,12,14)"/>
<circle cx="155.7" cy="171.6" r="0.85" fill="rgb(163,12,14)"/>
<circle cx="180.8" cy="93.6" r="0.76" fill="rgb(142,12,14)"/>
<circle cx="201.3" cy="160.6" r="0.68" fill="rgb(105,12,14)"/>
<circle cx="74.7" cy="56.3" r="0.77" fill="rgb(151,12,14)"/>
<circle cx="43.8" cy="120.0" r="0.84" fill="rgb(119,12,14)"/>
<circle cx="21.6" cy="136.3" r="0.64" fill="rgb(101,12,14)"/>
<circle cx="65.7" cy="1.5" r="0.56" fill="rgb(124,12,14)"/>
<circle cx="23.9" cy="1.4" r="0.72" fill="rgb(166,12,14)"/>
<circle cx="190.2" cy="73.4" r="0.87" fill="rgb(96,12,14)"/>
<circle cx="34.3" cy="1.5" r="0.52" fill="rgb(138,12,14)"/>
<circle cx="172.6" cy="107.5" r="0.82" fill="rgb(126,12,14)"/>
<circle cx="209.5" cy="136.8" r="0.71" fill="rgb(103,12,14)"/>
<circle cx="97.2" cy="99.1" r="0.83" fill="rgb(108,12,14)"/>
</g>
<g filter="url(#fc2)" opacity="0.8" style="mix-blend-mode:screen">
<ellipse cx="22" cy="30" rx="18" ry="19" fill="rgb(0,0,22)" fill-opacity="0.6"/>
<ellipse cx="40" cy="42" rx="14" ry="15" fill="rgb(0,0,27)" fill-opacity="0.6"/>
<ellipse cx="34" cy="70" rx="13" ry="15" fill="rgb(0,0,24)" fill-opacity="0.6"/>
<ellipse cx="20" cy="78" rx="13" ry="15" fill="rgb(0,0,23)" fill-opacity="0.6"/>
<ellipse cx="55" cy="78" rx="15" ry="13" fill="rgb(0,0,25)" fill-opacity="0.6"/>
<ellipse cx="54" cy="58" rx="15" ry="12" fill="rgb(0,0,23)" fill-opacity="0.6"/>
<ellipse cx="38" cy="101" rx="15" ry="15" fill="rgb(0,0,26)" fill-opacity="0.6"/>
<ellipse cx="60" cy="99" rx="13" ry="13" fill="rgb(0,0,24)" fill-opacity="0.6"/>
<ellipse cx="12" cy="100" rx="14" ry="14" fill="rgb(0,0,22)" fill-opacity="0.6"/>
<ellipse cx="78" cy="73" rx="22" ry="22" fill="rgb(0,0,24)" fill-opacity="0.6"/>
<ellipse cx="73" cy="10" rx="15" ry="12" fill="rgb(0,0,22)" fill-opacity="0.6"/>
<ellipse cx="130" cy="15" rx="20" ry="14" fill="rgb(0,0,22)" fill-opacity="0.6"/>
<ellipse cx="150" cy="14" rx="18" ry="14" fill="rgb(0,0,23)" fill-opacity="0.6"/>
<ellipse cx="172" cy="43" rx="13" ry="13" fill="rgb(0,0,23)" fill-opacity="0.6"/>
<ellipse cx="170" cy="94" rx="15" ry="16" fill="rgb(0,0,24)" fill-opacity="0.6"/>
<ellipse cx="193" cy="95" rx="16" ry="17" fill="rgb(0,0,23)" fill-opacity="0.6"/>
<ellipse cx="205" cy="115" rx="18" ry="18" fill="rgb(0,0,22)" fill-opacity="0.6"/>
<ellipse cx="43" cy="124" rx="16" ry="16" fill="rgb(0,0,27)" fill-opacity="0.6"/>
<ellipse cx="28" cy="143" rx="19" ry="14" fill="rgb(0,0,25)" fill-opacity="0.6"/>
<ellipse cx="84" cy="156" rx="18" ry="19" fill="rgb(0,0,27)" fill-opacity="0.6"/>
<ellipse cx="100" cy="136" rx="20" ry="12" fill="rgb(0,0,30)" fill-opacity="0.6"/>
<ellipse cx="97" cy="130" rx="12" ry="8" fill="rgb(0,0,30)" fill-opacity="0.6"/>
<ellipse cx="107" cy="156" rx="15" ry="18" fill="rgb(0,0,24)" fill-opacity="0.6"/>
<ellipse cx="109" cy="180" rx="14" ry="13" fill="rgb(0,0,24)" fill-opacity="0.6"/>
<ellipse cx="98" cy="199" rx="17" ry="16" fill="rgb(0,0,25)" fill-opacity="0.6"/>
<ellipse cx="34" cy="215" rx="17" ry="15" fill="rgb(0,0,25)" fill-opacity="0.6"/>
<ellipse cx="62" cy="216" rx="13" ry="12" fill="rgb(0,0,22)" fill-opacity="0.6"/>
<ellipse cx="8" cy="152" rx="13" ry="17" fill="rgb(0,0,23)" fill-opacity="0.6"/>
<ellipse cx="10" cy="212" rx="14" ry="14" fill="rgb(0,0,23)" fill-opacity="0.6"/>
<ellipse cx="158" cy="130" rx="14" ry="16" fill="rgb(0,0,25)" fill-opacity="0.6"/>
<ellipse cx="185" cy="122" rx="14" ry="14" fill="rgb(0,0,22)" fill-opacity="0.6"/>
<ellipse cx="150" cy="154" rx="20" ry="16" fill="rgb(0,0,27)" fill-opacity="0.6"/>
<ellipse cx="190" cy="168" rx="14" ry="18" fill="rgb(0,0,19)" fill-opacity="0.6"/>
<ellipse cx="173" cy="180" rx="15" ry="16" fill="rgb(0,0,20)" fill-opacity="0.6"/>
<ellipse cx="141" cy="209" rx="16" ry="16" fill="rgb(0,0,23)" fill-opacity="0.6"/>
<ellipse cx="218" cy="110" rx="12" ry="14" fill="rgb(0,0,20)" fill-opacity="0.6"/>
<ellipse cx="218" cy="157" rx="12" ry="15" fill="rgb(0,0,19)" fill-opacity="0.6"/>
<ellipse cx="117" cy="157" rx="11" ry="15" fill="rgb(0,0,24)" fill-opacity="0.6"/>
<ellipse cx="185" cy="141" rx="9" ry="9" fill="rgb(0,0,23)" fill-opacity="0.6"/>
</g>
<g filter="url(#fn)">
<ellipse cx="78" cy="74" rx="13" ry="14.5" transform="rotate(0 78 74)" fill="rgb(34,14,160)"/>
<ellipse cx="52.5" cy="77" rx="8.5" ry="7.5" transform="rotate(0 52.5 77)" fill="rgb(30,12,133)"/>
<ellipse cx="36.5" cy="100.5" rx="9" ry="9" transform="rotate(0 36.5 100.5)" fill="rgb(30,12,133)"/>
<ellipse cx="58" cy="98.3" rx="8.5" ry="8.5" transform="rotate(0 58 98.3)" fill="rgb(29,11,128)"/>
<ellipse cx="35" cy="68" rx="7.5" ry="10" transform="rotate(0 35 68)" fill="rgb(27,10,118)"/>
<ellipse cx="51" cy="58" rx="10" ry="8" transform="rotate(0 51 58)" fill="rgb(26,10,112)"/>
<ellipse cx="21" cy="29" rx="11" ry="12" transform="rotate(0 21 29)" fill="rgb(26,10,112)"/>
<ellipse cx="36" cy="39" rx="7" ry="8" transform="rotate(0 36 39)" fill="rgb(25,9,102)"/>
<ellipse cx="72.5" cy="8.5" rx="9" ry="8" transform="rotate(0 72.5 8.5)" fill="rgb(25,9,102)"/>
<ellipse cx="119.5" cy="23.5" rx="3.5" ry="4.5" transform="rotate(0 119.5 23.5)" fill="rgb(32,13,149)"/>
<ellipse cx="95" cy="12" rx="3.5" ry="4" transform="rotate(0 95 12)" fill="rgb(30,12,139)"/>
<ellipse cx="113.7" cy="41" rx="5" ry="5" transform="rotate(0 113.7 41)" fill="rgb(24,9,97)"/>
<ellipse cx="18.8" cy="77" rx="8" ry="11" transform="rotate(0 18.8 77)" fill="rgb(25,9,102)"/>
<ellipse cx="10" cy="99" rx="10" ry="10" transform="rotate(0 10 99)" fill="rgb(24,9,97)"/>
<ellipse cx="144.5" cy="11.5" rx="10" ry="8.5" transform="rotate(0 144.5 11.5)" fill="rgb(26,10,107)"/>
<ellipse cx="131" cy="21.5" rx="5" ry="7" transform="rotate(0 131 21.5)" fill="rgb(30,12,139)"/>
<ellipse cx="140" cy="58" rx="6" ry="7" transform="rotate(0 140 58)" fill="rgb(34,14,160)"/>
<ellipse cx="171" cy="42.5" rx="6" ry="6" transform="rotate(0 171 42.5)" fill="rgb(27,10,118)"/>
<ellipse cx="169.5" cy="93.3" rx="7.5" ry="10" transform="rotate(-15 169.5 93.3)" fill="rgb(30,12,133)"/>
<ellipse cx="191.5" cy="92.5" rx="7.5" ry="10.5" transform="rotate(20 191.5 92.5)" fill="rgb(27,10,118)"/>
<ellipse cx="197" cy="108" rx="7" ry="6" transform="rotate(0 197 108)" fill="rgb(26,10,107)"/>
<ellipse cx="220" cy="103" rx="7" ry="9" transform="rotate(0 220 103)" fill="rgb(24,9,97)"/>
<ellipse cx="42.5" cy="124.6" rx="10" ry="10" transform="rotate(0 42.5 124.6)" fill="rgb(30,12,133)"/>
<ellipse cx="27.3" cy="143" rx="13" ry="8" transform="rotate(15 27.3 143)" fill="rgb(29,11,128)"/>
<ellipse cx="83" cy="157.5" rx="10" ry="12.5" transform="rotate(-25 83 157.5)" fill="rgb(31,12,144)"/>
<ellipse cx="106.3" cy="155.5" rx="9.5" ry="12.5" transform="rotate(0 106.3 155.5)" fill="rgb(28,11,123)"/>
<ellipse cx="109" cy="178.5" rx="9" ry="8" transform="rotate(0 109 178.5)" fill="rgb(26,10,112)"/>
<ellipse cx="98" cy="198.5" rx="11.5" ry="11.5" transform="rotate(0 98 198.5)" fill="rgb(27,10,118)"/>
<ellipse cx="33.6" cy="215" rx="10" ry="8" transform="rotate(0 33.6 215)" fill="rgb(27,10,118)"/>
<ellipse cx="62" cy="216" rx="7" ry="7" transform="rotate(0 62 216)" fill="rgb(24,9,97)"/>
<ellipse cx="6.3" cy="152" rx="7" ry="12" transform="rotate(0 6.3 152)" fill="rgb(26,10,112)"/>
<ellipse cx="9.8" cy="211.8" rx="9" ry="9" transform="rotate(0 9.8 211.8)" fill="rgb(26,10,107)"/>
<ellipse cx="158" cy="129.7" rx="8.5" ry="11" transform="rotate(0 158 129.7)" fill="rgb(27,10,118)"/>
<ellipse cx="184.5" cy="120.3" rx="8" ry="9" transform="rotate(0 184.5 120.3)" fill="rgb(27,10,118)"/>
<ellipse cx="185" cy="141.6" rx="4" ry="5" transform="rotate(0 185 141.6)" fill="rgb(32,13,149)"/>
<ellipse cx="173" cy="163.7" rx="3" ry="3" transform="rotate(0 173 163.7)" fill="rgb(30,12,139)"/>
<ellipse cx="191.5" cy="168" rx="8" ry="12" transform="rotate(0 191.5 168)" fill="rgb(25,9,102)"/>
<ellipse cx="172.7" cy="179.2" rx="9.5" ry="11" transform="rotate(0 172.7 179.2)" fill="rgb(25,9,102)"/>
<ellipse cx="141" cy="209" rx="10" ry="10" transform="rotate(0 141 209)" fill="rgb(27,10,118)"/>
<ellipse cx="150.5" cy="154" rx="14" ry="10" transform="rotate(0 150.5 154)" fill="rgb(29,11,128)"/>
<ellipse cx="220" cy="114" rx="6" ry="8" transform="rotate(0 220 114)" fill="rgb(24,9,97)"/>
<ellipse cx="220" cy="157" rx="7" ry="10" transform="rotate(0 220 157)" fill="rgb(24,9,97)"/>
<ellipse cx="117" cy="157" rx="6" ry="10" transform="rotate(0 117 157)" fill="rgb(26,10,107)"/>
</g>
</g></g>
<text x="206.5" y="42.3" text-anchor="end" class="pl" fill="#2222ea">DNA</text>
<text x="334.6" y="41.8" class="pl" fill="#d81a1e" style="font-size:18.6px">AmGr10</text>
<text x="607.0" y="42.4" class="pl" fill="#ffffff" style="font-size:18.7px">Merge</text>
<rect x="167.1" y="225.3" width="31.5" height="12.399999999999977" fill="#e3e2df" stroke="#fbfbfb" stroke-width="1.2"/>
<rect x="397.1" y="226.5" width="31.299999999999955" height="12.199999999999989" fill="#e3e2df" stroke="#fbfbfb" stroke-width="1.2"/>
<rect x="626.8" y="226.0" width="31.600000000000023" height="12.400000000000006" fill="#e3e2df" stroke="#fbfbfb" stroke-width="1.2"/>
<text x="-0.3" y="288.6" class="lab" style="font-size:22.6px">b</text>
<line x1="46.0" y1="333.2" x2="46.0" y2="517.0" stroke="#353535" stroke-width="1.3"/>
<line x1="40.4" y1="511.6" x2="313.3" y2="511.6" stroke="#353535" stroke-width="1.3"/>
<line x1="40.4" y1="476.04" x2="46.0" y2="476.04" stroke="#353535" stroke-width="1.3"/>
<line x1="40.4" y1="440.48" x2="46.0" y2="440.48" stroke="#353535" stroke-width="1.3"/>
<line x1="40.4" y1="404.92" x2="46.0" y2="404.92" stroke="#353535" stroke-width="1.3"/>
<line x1="40.4" y1="369.36" x2="46.0" y2="369.36" stroke="#353535" stroke-width="1.3"/>
<line x1="40.4" y1="333.80" x2="46.0" y2="333.80" stroke="#353535" stroke-width="1.3"/>
<line x1="99.4" y1="511.6" x2="99.4" y2="517.1" stroke="#353535" stroke-width="1.3"/>
<line x1="152.75" y1="511.6" x2="152.75" y2="517.1" stroke="#353535" stroke-width="1.3"/>
<line x1="206.1" y1="511.6" x2="206.1" y2="517.1" stroke="#353535" stroke-width="1.3"/>
<line x1="259.5" y1="511.6" x2="259.5" y2="517.1" stroke="#353535" stroke-width="1.3"/>
<text x="35.2" y="517.40" text-anchor="end" class="t">0</text>
<path d="M33.15,481.84 L33.15,469.94 L32.00,469.94 C31.30,471.34 30.00,472.24 28.50,472.74 L28.70,474.14 C29.90,473.74 31.00,473.04 31.75,472.34 L31.75,481.84 Z" fill="#1e1e1e"/>
<text x="35.2" y="446.28" text-anchor="end" class="t">2</text>
<text x="35.2" y="410.72" text-anchor="end" class="t">3</text>
<text x="35.2" y="375.16" text-anchor="end" class="t">4</text>
<text x="35.2" y="339.60" text-anchor="end" class="t">5</text>
<text transform="translate(16.2,425.30) rotate(-90)" text-anchor="middle" class="t yl">Normalized fluorescence</text>
<text x="180.2" y="325.7" text-anchor="middle" class="t tt">Asparagine</text>
<path d="M45.60,476.77 L48.00,476.71 L50.41,476.64 L52.81,476.55 L55.22,476.45 L57.62,476.34 L60.03,476.22 L62.43,476.07 L64.84,475.91 L67.24,475.73 L69.64,475.53 L72.05,475.31 L74.45,475.07 L76.86,474.80 L79.26,474.50 L81.67,474.18 L84.07,473.83 L86.48,473.45 L88.88,473.04 L91.29,472.60 L93.69,472.13 L96.09,471.62 L98.50,471.08 L100.90,470.51 L103.31,469.91 L105.71,469.27 L108.12,468.59 L110.52,467.89 L112.93,467.15 L115.33,466.38 L117.73,465.57 L120.14,464.73 L122.54,463.87 L124.95,462.97 L127.35,462.04 L129.76,461.08 L132.16,460.10 L134.57,459.09 L136.97,458.05 L139.38,456.99 L141.78,455.91 L144.18,454.81 L146.59,453.69 L148.99,452.55 L151.40,451.39 L153.80,450.22 L156.21,449.04 L158.61,447.84 L161.02,446.63 L163.42,445.42 L165.82,444.19 L168.23,442.97 L170.63,441.73 L173.04,440.49 L175.44,439.26 L177.85,438.02 L180.25,436.78 L182.66,435.54 L185.06,434.31 L187.47,433.09 L189.87,431.86 L192.27,430.65 L194.68,429.44 L197.08,428.24 L199.49,427.05 L201.89,425.87 L204.30,424.71 L206.70,423.55 L209.11,422.41 L211.51,421.28 L213.91,420.16 L216.32,419.06 L218.72,417.98 L221.13,416.91 L223.53,415.85 L225.94,414.81 L228.34,413.79 L230.75,412.78 L233.15,411.80 L235.56,410.82 L237.96,409.87 L240.36,408.93 L242.77,408.01 L245.17,407.11 L247.58,406.23 L249.98,405.36 L252.39,404.51 L254.79,403.68 L257.20,402.87 L259.60,402.07" fill="none" stroke="#b8428c" stroke-width="1.15"/>
<circle cx="46.0" cy="476.2" r="1.9" fill="#c04c98" stroke="#5e1844" stroke-width="0.85"/>
<circle cx="99.4" cy="471.9" r="1.9" fill="#c04c98" stroke="#5e1844" stroke-width="0.85"/>
<path d="M152.75,445.3 V454.3 M150.85,445.3 H154.65 M150.85,454.3 H154.65" stroke="#2a2a2a" stroke-width="1.1" fill="none"/>
<circle cx="152.75" cy="449.8" r="1.9" fill="#c04c98" stroke="#5e1844" stroke-width="0.85"/>
<path d="M206.1,418.29999999999995 V429.5 M204.2,418.29999999999995 H208.0 M204.2,429.5 H208.0" stroke="#2a2a2a" stroke-width="1.1" fill="none"/>
<circle cx="206.1" cy="423.9" r="1.9" fill="#c04c98" stroke="#5e1844" stroke-width="0.85"/>
<circle cx="259.5" cy="402.1" r="1.9" fill="#c04c98" stroke="#5e1844" stroke-width="0.85"/>
<text x="99.80000000000001" y="467.30" text-anchor="middle" class="t st">*</text>
<text x="153.45" y="444.10" text-anchor="middle" class="t st">**</text>
<text x="206.79999999999998" y="418.70" text-anchor="middle" class="t st">**</text>
<text x="260.2" y="401.30" text-anchor="middle" class="t st">**</text>
<line x1="401.4" y1="333.2" x2="401.4" y2="517.0" stroke="#353535" stroke-width="1.3"/>
<line x1="395.79999999999995" y1="511.6" x2="668.7" y2="511.6" stroke="#353535" stroke-width="1.3"/>
<line x1="395.79999999999995" y1="476.04" x2="401.4" y2="476.04" stroke="#353535" stroke-width="1.3"/>
<line x1="395.79999999999995" y1="440.48" x2="401.4" y2="440.48" stroke="#353535" stroke-width="1.3"/>
<line x1="395.79999999999995" y1="404.92" x2="401.4" y2="404.92" stroke="#353535" stroke-width="1.3"/>
<line x1="395.79999999999995" y1="369.36" x2="401.4" y2="369.36" stroke="#353535" stroke-width="1.3"/>
<line x1="395.79999999999995" y1="333.80" x2="401.4" y2="333.80" stroke="#353535" stroke-width="1.3"/>
<line x1="454.8" y1="511.6" x2="454.8" y2="517.1" stroke="#353535" stroke-width="1.3"/>
<line x1="508.3" y1="511.6" x2="508.3" y2="517.1" stroke="#353535" stroke-width="1.3"/>
<line x1="561.7" y1="511.6" x2="561.7" y2="517.1" stroke="#353535" stroke-width="1.3"/>
<line x1="615.1" y1="511.6" x2="615.1" y2="517.1" stroke="#353535" stroke-width="1.3"/>
<text x="535.5999999999999" y="325.7" text-anchor="middle" class="t tt">Glutamine</text>
<path d="M401.30,476.27 L403.70,476.38 L406.11,476.47 L408.51,476.55 L410.91,476.61 L413.32,476.65 L415.72,476.68 L418.12,476.68 L420.53,476.68 L422.93,476.65 L425.33,476.61 L427.74,476.54 L430.14,476.46 L432.54,476.37 L434.95,476.25 L437.35,476.11 L439.75,475.96 L442.16,475.78 L444.56,475.59 L446.96,475.37 L449.37,475.14 L451.77,474.89 L454.17,474.61 L456.58,474.32 L458.98,474.00 L461.38,473.66 L463.79,473.31 L466.19,472.93 L468.59,472.52 L471.00,472.10 L473.40,471.66 L475.80,471.19 L478.21,470.70 L480.61,470.19 L483.01,469.65 L485.42,469.09 L487.82,468.51 L490.22,467.90 L492.63,467.27 L495.03,466.62 L497.43,465.94 L499.84,465.24 L502.24,464.51 L504.64,463.76 L507.05,462.98 L509.45,462.18 L511.86,461.35 L514.26,460.50 L516.66,459.62 L519.07,458.73 L521.47,457.80 L523.87,456.86 L526.28,455.89 L528.68,454.91 L531.08,453.90 L533.49,452.87 L535.89,451.82 L538.29,450.76 L540.70,449.67 L543.10,448.57 L545.50,447.45 L547.91,446.31 L550.31,445.16 L552.71,443.99 L555.12,442.80 L557.52,441.60 L559.92,440.39 L562.33,439.16 L564.73,437.92 L567.13,436.67 L569.54,435.40 L571.94,434.13 L574.34,432.84 L576.75,431.54 L579.15,430.23 L581.55,428.90 L583.96,427.57 L586.36,426.23 L588.76,424.88 L591.17,423.51 L593.57,422.14 L595.97,420.76 L598.38,419.38 L600.78,417.98 L603.18,416.58 L605.59,415.17 L607.99,413.75 L610.39,412.33 L612.80,410.90 L615.20,409.47" fill="none" stroke="#b8428c" stroke-width="1.15"/>
<circle cx="401.4" cy="476.3" r="1.9" fill="#c04c98" stroke="#5e1844" stroke-width="0.85"/>
<circle cx="454.8" cy="474.5" r="1.9" fill="#c04c98" stroke="#5e1844" stroke-width="0.85"/>
<path d="M508.3,460.0 V465.4 M506.40000000000003,460.0 H510.2 M506.40000000000003,465.4 H510.2" stroke="#2a2a2a" stroke-width="1.1" fill="none"/>
<circle cx="508.3" cy="462.7" r="1.9" fill="#c04c98" stroke="#5e1844" stroke-width="0.85"/>
<path d="M561.7,434.9 V444.9 M559.8000000000001,434.9 H563.6 M559.8000000000001,444.9 H563.6" stroke="#2a2a2a" stroke-width="1.1" fill="none"/>
<circle cx="561.7" cy="439.9" r="1.9" fill="#c04c98" stroke="#5e1844" stroke-width="0.85"/>
<path d="M615.1,406.5 V411.9 M613.2,406.5 H617.0 M613.2,411.9 H617.0" stroke="#2a2a2a" stroke-width="1.1" fill="none"/>
<circle cx="615.1" cy="409.2" r="1.9" fill="#c04c98" stroke="#5e1844" stroke-width="0.85"/>
<text x="509.0" y="460.70" text-anchor="middle" class="t st">**</text>
<text x="562.4000000000001" y="436.60" text-anchor="middle" class="t st">**</text>
<text x="615.8000000000001" y="407.30" text-anchor="middle" class="t st">**</text>
<line x1="46.0" y1="574.8" x2="46.0" y2="758.8" stroke="#353535" stroke-width="1.3"/>
<line x1="40.4" y1="753.4" x2="313.3" y2="753.4" stroke="#353535" stroke-width="1.3"/>
<line x1="40.4" y1="717.80" x2="46.0" y2="717.80" stroke="#353535" stroke-width="1.3"/>
<line x1="40.4" y1="682.20" x2="46.0" y2="682.20" stroke="#353535" stroke-width="1.3"/>
<line x1="40.4" y1="646.60" x2="46.0" y2="646.60" stroke="#353535" stroke-width="1.3"/>
<line x1="40.4" y1="611.00" x2="46.0" y2="611.00" stroke="#353535" stroke-width="1.3"/>
<line x1="40.4" y1="575.40" x2="46.0" y2="575.40" stroke="#353535" stroke-width="1.3"/>
<line x1="99.4" y1="753.4" x2="99.4" y2="758.9" stroke="#353535" stroke-width="1.3"/>
<line x1="152.75" y1="753.4" x2="152.75" y2="758.9" stroke="#353535" stroke-width="1.3"/>
<line x1="206.1" y1="753.4" x2="206.1" y2="758.9" stroke="#353535" stroke-width="1.3"/>
<line x1="259.5" y1="753.4" x2="259.5" y2="758.9" stroke="#353535" stroke-width="1.3"/>
<text x="35.2" y="759.20" text-anchor="end" class="t">0</text>
<path d="M33.15,723.60 L33.15,711.70 L32.00,711.70 C31.30,713.10 30.00,714.00 28.50,714.50 L28.70,715.90 C29.90,715.50 31.00,714.80 31.75,714.10 L31.75,723.60 Z" fill="#1e1e1e"/>
<text x="35.2" y="688.00" text-anchor="end" class="t">2</text>
<text x="35.2" y="652.40" text-anchor="end" class="t">3</text>
<text x="35.2" y="616.80" text-anchor="end" class="t">4</text>
<text x="35.2" y="581.20" text-anchor="end" class="t">5</text>
<text transform="translate(16.2,667.00) rotate(-90)" text-anchor="middle" class="t yl">Normalized fluorescence</text>
<text x="180.2" y="564.8" text-anchor="middle" class="t tt">Lysine</text>
<path d="M46.00,714.83 L48.40,712.65 L50.80,710.53 L53.19,708.46 L55.59,706.45 L57.99,704.48 L60.39,702.57 L62.78,700.70 L65.18,698.87 L67.58,697.09 L69.98,695.35 L72.38,693.64 L74.77,691.97 L77.17,690.33 L79.57,688.73 L81.97,687.15 L84.36,685.60 L86.76,684.08 L89.16,682.57 L91.56,681.09 L93.96,679.63 L96.35,678.18 L98.75,676.75 L101.15,675.33 L103.55,673.93 L105.94,672.55 L108.34,671.18 L110.74,669.82 L113.14,668.48 L115.53,667.15 L117.93,665.84 L120.33,664.54 L122.73,663.26 L125.13,661.99 L127.52,660.73 L129.92,659.49 L132.32,658.26 L134.72,657.04 L137.11,655.84 L139.51,654.65 L141.91,653.47 L144.31,652.30 L146.71,651.15 L149.10,650.00 L151.50,648.87 L153.90,647.76 L156.30,646.66 L158.69,645.57 L161.09,644.50 L163.49,643.44 L165.89,642.40 L168.29,641.38 L170.68,640.37 L173.08,639.38 L175.48,638.41 L177.88,637.46 L180.27,636.53 L182.67,635.62 L185.07,634.72 L187.47,633.85 L189.87,633.00 L192.26,632.17 L194.66,631.36 L197.06,630.57 L199.46,629.81 L201.85,629.07 L204.25,628.35 L206.65,627.66 L209.05,626.99 L211.44,626.35 L213.84,625.73 L216.24,625.13 L218.64,624.55 L221.04,623.99 L223.43,623.45 L225.83,622.92 L228.23,622.41 L230.63,621.91 L233.02,621.43 L235.42,620.96 L237.82,620.50 L240.22,620.05 L242.62,619.61 L245.01,619.18 L247.41,618.75 L249.81,618.33 L252.21,617.91 L254.60,617.49 L257.00,617.08 L259.40,616.67" fill="none" stroke="#58b3b6" stroke-width="1.15"/>
<circle cx="46.0" cy="717.3" r="1.9" fill="#7fcac6" stroke="#27605e" stroke-width="0.85"/>
<path d="M99.4,661.1 V670.1 M97.5,661.1 H101.30000000000001 M97.5,670.1 H101.30000000000001" stroke="#2a2a2a" stroke-width="1.1" fill="none"/>
<circle cx="99.4" cy="665.6" r="1.9" fill="#7fcac6" stroke="#27605e" stroke-width="0.85"/>
<path d="M152.75,648.5 V659.9000000000001 M150.85,648.5 H154.65 M150.85,659.9000000000001 H154.65" stroke="#2a2a2a" stroke-width="1.1" fill="none"/>
<circle cx="152.75" cy="654.2" r="1.9" fill="#7fcac6" stroke="#27605e" stroke-width="0.85"/>
<path d="M206.1,628.5 V637.0999999999999 M204.2,628.5 H208.0 M204.2,637.0999999999999 H208.0" stroke="#2a2a2a" stroke-width="1.1" fill="none"/>
<circle cx="206.1" cy="632.8" r="1.9" fill="#7fcac6" stroke="#27605e" stroke-width="0.85"/>
<path d="M259.5,605.9 V618.3000000000001 M257.6,605.9 H261.4 M257.6,618.3000000000001 H261.4" stroke="#2a2a2a" stroke-width="1.1" fill="none"/>
<circle cx="259.5" cy="612.1" r="1.9" fill="#7fcac6" stroke="#27605e" stroke-width="0.85"/>
<text x="100.10000000000001" y="661.90" text-anchor="middle" class="t st">**</text>
<text x="153.45" y="648.30" text-anchor="middle" class="t st">**</text>
<text x="206.79999999999998" y="629.80" text-anchor="middle" class="t st">**</text>
<text x="260.2" y="607.30" text-anchor="middle" class="t st">**</text>
<line x1="401.4" y1="574.8" x2="401.4" y2="758.8" stroke="#353535" stroke-width="1.3"/>
<line x1="395.79999999999995" y1="753.4" x2="668.7" y2="753.4" stroke="#353535" stroke-width="1.3"/>
<line x1="395.79999999999995" y1="717.80" x2="401.4" y2="717.80" stroke="#353535" stroke-width="1.3"/>
<line x1="395.79999999999995" y1="682.20" x2="401.4" y2="682.20" stroke="#353535" stroke-width="1.3"/>
<line x1="395.79999999999995" y1="646.60" x2="401.4" y2="646.60" stroke="#353535" stroke-width="1.3"/>
<line x1="395.79999999999995" y1="611.00" x2="401.4" y2="611.00" stroke="#353535" stroke-width="1.3"/>
<line x1="395.79999999999995" y1="575.40" x2="401.4" y2="575.40" stroke="#353535" stroke-width="1.3"/>
<line x1="454.8" y1="753.4" x2="454.8" y2="758.9" stroke="#353535" stroke-width="1.3"/>
<line x1="508.3" y1="753.4" x2="508.3" y2="758.9" stroke="#353535" stroke-width="1.3"/>
<line x1="561.7" y1="753.4" x2="561.7" y2="758.9" stroke="#353535" stroke-width="1.3"/>
<line x1="615.1" y1="753.4" x2="615.1" y2="758.9" stroke="#353535" stroke-width="1.3"/>
<text x="535.5999999999999" y="564.8" text-anchor="middle" class="t tt">Arginine</text>
<path d="M401.00,710.19 L403.40,710.11 L405.81,710.02 L408.21,709.93 L410.62,709.83 L413.02,709.74 L415.43,709.63 L417.83,709.53 L420.24,709.41 L422.64,709.29 L425.04,709.16 L427.45,709.02 L429.85,708.87 L432.26,708.71 L434.66,708.53 L437.07,708.35 L439.47,708.14 L441.88,707.93 L444.28,707.69 L446.69,707.44 L449.09,707.17 L451.49,706.88 L453.90,706.57 L456.30,706.24 L458.71,705.89 L461.11,705.51 L463.52,705.11 L465.92,704.68 L468.33,704.23 L470.73,703.75 L473.13,703.24 L475.54,702.71 L477.94,702.14 L480.35,701.55 L482.75,700.92 L485.16,700.25 L487.56,699.56 L489.97,698.83 L492.37,698.06 L494.78,697.26 L497.18,696.42 L499.58,695.54 L501.99,694.62 L504.39,693.66 L506.80,692.66 L509.20,691.61 L511.61,690.52 L514.01,689.39 L516.42,688.22 L518.82,687.01 L521.22,685.75 L523.63,684.46 L526.03,683.12 L528.44,681.75 L530.84,680.33 L533.25,678.88 L535.65,677.39 L538.06,675.86 L540.46,674.29 L542.87,672.68 L545.27,671.04 L547.67,669.36 L550.08,667.65 L552.48,665.90 L554.89,664.11 L557.29,662.30 L559.70,660.44 L562.10,658.53 L564.51,656.56 L566.91,654.53 L569.31,652.43 L571.72,650.25 L574.12,647.98 L576.53,645.61 L578.93,643.13 L581.34,640.54 L583.74,637.83 L586.15,634.99 L588.55,632.01 L590.96,628.88 L593.36,625.59 L595.76,622.15 L598.17,618.53 L600.57,614.73 L602.98,610.74 L605.38,606.56 L607.79,602.17 L610.19,597.57 L612.60,592.74 L615.00,587.69" fill="none" stroke="#58b3b6" stroke-width="1.15"/>
<circle cx="401.4" cy="717.3" r="1.9" fill="#7fcac6" stroke="#27605e" stroke-width="0.85"/>
<path d="M454.8,692.3 V698.7 M452.90000000000003,692.3 H456.7 M452.90000000000003,698.7 H456.7" stroke="#2a2a2a" stroke-width="1.1" fill="none"/>
<circle cx="454.8" cy="695.5" r="1.9" fill="#7fcac6" stroke="#27605e" stroke-width="0.85"/>
<path d="M508.3,688.6 V694.6 M506.40000000000003,688.6 H510.2 M506.40000000000003,694.6 H510.2" stroke="#2a2a2a" stroke-width="1.1" fill="none"/>
<circle cx="508.3" cy="691.6" r="1.9" fill="#7fcac6" stroke="#27605e" stroke-width="0.85"/>
<path d="M561.7,657.0 V665.0 M559.8000000000001,657.0 H563.6 M559.8000000000001,665.0 H563.6" stroke="#2a2a2a" stroke-width="1.1" fill="none"/>
<circle cx="561.7" cy="661.0" r="1.9" fill="#7fcac6" stroke="#27605e" stroke-width="0.85"/>
<path d="M615.1,579.4 V593.4 M613.2,579.4 H617.0 M613.2,593.4 H617.0" stroke="#2a2a2a" stroke-width="1.1" fill="none"/>
<circle cx="615.1" cy="586.4" r="1.9" fill="#7fcac6" stroke="#27605e" stroke-width="0.85"/>
<text x="455.2" y="693.60" text-anchor="middle" class="t st">*</text>
<text x="509.0" y="690.00" text-anchor="middle" class="t st">**</text>
<text x="562.4000000000001" y="657.90" text-anchor="middle" class="t st">**</text>
<text x="615.8000000000001" y="578.80" text-anchor="middle" class="t st">**</text>
<line x1="46.0" y1="816.5" x2="46.0" y2="1000.5" stroke="#353535" stroke-width="1.3"/>
<line x1="40.4" y1="995.1" x2="313.3" y2="995.1" stroke="#353535" stroke-width="1.3"/>
<line x1="40.4" y1="959.50" x2="46.0" y2="959.50" stroke="#353535" stroke-width="1.3"/>
<line x1="40.4" y1="923.90" x2="46.0" y2="923.90" stroke="#353535" stroke-width="1.3"/>
<line x1="40.4" y1="888.30" x2="46.0" y2="888.30" stroke="#353535" stroke-width="1.3"/>
<line x1="40.4" y1="852.70" x2="46.0" y2="852.70" stroke="#353535" stroke-width="1.3"/>
<line x1="40.4" y1="817.10" x2="46.0" y2="817.10" stroke="#353535" stroke-width="1.3"/>
<line x1="99.4" y1="995.1" x2="99.4" y2="1000.6" stroke="#353535" stroke-width="1.3"/>
<line x1="152.75" y1="995.1" x2="152.75" y2="1000.6" stroke="#353535" stroke-width="1.3"/>
<line x1="206.1" y1="995.1" x2="206.1" y2="1000.6" stroke="#353535" stroke-width="1.3"/>
<line x1="259.5" y1="995.1" x2="259.5" y2="1000.6" stroke="#353535" stroke-width="1.3"/>
<text x="35.2" y="1000.90" text-anchor="end" class="t">0</text>
<path d="M33.15,965.30 L33.15,953.40 L32.00,953.40 C31.30,954.80 30.00,955.70 28.50,956.20 L28.70,957.60 C29.90,957.20 31.00,956.50 31.75,955.80 L31.75,965.30 Z" fill="#1e1e1e"/>
<text x="35.2" y="929.70" text-anchor="end" class="t">2</text>
<text x="35.2" y="894.10" text-anchor="end" class="t">3</text>
<text x="35.2" y="858.50" text-anchor="end" class="t">4</text>
<text x="35.2" y="822.90" text-anchor="end" class="t">5</text>
<text transform="translate(16.2,908.70) rotate(-90)" text-anchor="middle" class="t yl">Normalized fluorescence</text>
<text x="180.2" y="807.8" text-anchor="middle" class="t tt">Aspartate</text>
<path d="M46.00,954.90 L48.40,954.70 L50.80,954.52 L53.19,954.34 L55.59,954.17 L57.99,954.01 L60.39,953.84 L62.78,953.68 L65.18,953.51 L67.58,953.34 L69.98,953.16 L72.38,952.96 L74.77,952.76 L77.17,952.54 L79.57,952.30 L81.97,952.05 L84.36,951.77 L86.76,951.47 L89.16,951.14 L91.56,950.78 L93.96,950.39 L96.35,949.97 L98.75,949.51 L101.15,949.01 L103.55,948.47 L105.94,947.89 L108.34,947.26 L110.74,946.58 L113.14,945.86 L115.53,945.08 L117.93,944.24 L120.33,943.35 L122.73,942.40 L125.13,941.39 L127.52,940.31 L129.92,939.16 L132.32,937.95 L134.72,936.66 L137.11,935.30 L139.51,933.86 L141.91,932.35 L144.31,930.75 L146.71,929.07 L149.10,927.30 L151.50,925.45 L153.90,923.51 L156.30,921.47 L158.69,919.36 L161.09,917.18 L163.49,914.93 L165.89,912.63 L168.29,910.28 L170.68,907.89 L173.08,905.47 L175.48,903.02 L177.88,900.56 L180.27,898.08 L182.67,895.61 L185.07,893.14 L187.47,890.69 L189.87,888.27 L192.26,885.87 L194.66,883.51 L197.06,881.20 L199.46,878.94 L201.85,876.74 L204.25,874.62 L206.65,872.57 L209.05,870.60 L211.44,868.72 L213.84,866.93 L216.24,865.22 L218.64,863.59 L221.04,862.05 L223.43,860.59 L225.83,859.22 L228.23,857.93 L230.63,856.72 L233.02,855.59 L235.42,854.55 L237.82,853.59 L240.22,852.71 L242.62,851.91 L245.01,851.20 L247.41,850.57 L249.81,850.02 L252.21,849.55 L254.60,849.16 L257.00,848.85 L259.40,848.62" fill="none" stroke="#d8602f" stroke-width="1.15"/>
<circle cx="46.0" cy="959.1" r="1.9" fill="#dc6440" stroke="#72301a" stroke-width="0.85"/>
<path d="M99.4,937.2 V946.8 M97.5,937.2 H101.30000000000001 M97.5,946.8 H101.30000000000001" stroke="#2a2a2a" stroke-width="1.1" fill="none"/>
<circle cx="99.4" cy="942.0" r="1.9" fill="#dc6440" stroke="#72301a" stroke-width="0.85"/>
<path d="M152.75,917.1 V934.1 M150.85,917.1 H154.65 M150.85,934.1 H154.65" stroke="#2a2a2a" stroke-width="1.1" fill="none"/>
<circle cx="152.75" cy="925.6" r="1.9" fill="#dc6440" stroke="#72301a" stroke-width="0.85"/>
<path d="M206.1,865.1999999999999 V880.4 M204.2,865.1999999999999 H208.0 M204.2,880.4 H208.0" stroke="#2a2a2a" stroke-width="1.1" fill="none"/>
<circle cx="206.1" cy="872.8" r="1.9" fill="#dc6440" stroke="#72301a" stroke-width="0.85"/>
<path d="M259.5,839.0 V858.0 M257.6,839.0 H261.4 M257.6,858.0 H261.4" stroke="#2a2a2a" stroke-width="1.1" fill="none"/>
<circle cx="259.5" cy="848.5" r="1.9" fill="#dc6440" stroke="#72301a" stroke-width="0.85"/>
<text x="99.80000000000001" y="938.30" text-anchor="middle" class="t st">*</text>
<text x="153.45" y="918.60" text-anchor="middle" class="t st">**</text>
<text x="206.79999999999998" y="865.30" text-anchor="middle" class="t st">**</text>
<text x="260.2" y="841.30" text-anchor="middle" class="t st">**</text>
<text x="46.0" y="1018.10" text-anchor="middle" class="t xl">0</text>
<text x="99.4" y="1018.10" text-anchor="middle" class="t xl">50</text>
<path d="M143.40,1017.40 L143.40,1005.50 L142.25,1005.50 C141.55,1006.90 140.25,1007.80 138.75,1008.30 L138.95,1009.70 C140.15,1009.30 141.25,1008.60 142.00,1007.90 L142.00,1017.40 Z" fill="#1e1e1e"/>
<text x="147.65" y="1018.10" class="t" style="letter-spacing:1.3px">00</text>
<text x="206.1" y="1018.10" text-anchor="middle" class="t xl">300</text>
<text x="259.5" y="1018.10" text-anchor="middle" class="t xl">500</text>
<text x="180.3" y="1038.20" text-anchor="middle" class="t xt">Concentration (mM)</text>
<line x1="401.4" y1="816.5" x2="401.4" y2="1000.5" stroke="#353535" stroke-width="1.3"/>
<line x1="395.79999999999995" y1="995.1" x2="668.7" y2="995.1" stroke="#353535" stroke-width="1.3"/>
<line x1="395.79999999999995" y1="959.50" x2="401.4" y2="959.50" stroke="#353535" stroke-width="1.3"/>
<line x1="395.79999999999995" y1="923.90" x2="401.4" y2="923.90" stroke="#353535" stroke-width="1.3"/>
<line x1="395.79999999999995" y1="888.30" x2="401.4" y2="888.30" stroke="#353535" stroke-width="1.3"/>
<line x1="395.79999999999995" y1="852.70" x2="401.4" y2="852.70" stroke="#353535" stroke-width="1.3"/>
<line x1="395.79999999999995" y1="817.10" x2="401.4" y2="817.10" stroke="#353535" stroke-width="1.3"/>
<line x1="454.8" y1="995.1" x2="454.8" y2="1000.6" stroke="#353535" stroke-width="1.3"/>
<line x1="508.3" y1="995.1" x2="508.3" y2="1000.6" stroke="#353535" stroke-width="1.3"/>
<line x1="561.7" y1="995.1" x2="561.7" y2="1000.6" stroke="#353535" stroke-width="1.3"/>
<line x1="615.1" y1="995.1" x2="615.1" y2="1000.6" stroke="#353535" stroke-width="1.3"/>
<text x="535.5999999999999" y="807.8" text-anchor="middle" class="t tt">Glutamate</text>
<path d="M401.40,962.59 L403.80,962.48 L406.20,962.37 L408.59,962.24 L410.99,962.11 L413.39,961.96 L415.79,961.79 L418.18,961.61 L420.58,961.42 L422.98,961.20 L425.38,960.96 L427.78,960.70 L430.17,960.41 L432.57,960.09 L434.97,959.75 L437.37,959.37 L439.76,958.96 L442.16,958.51 L444.56,958.03 L446.96,957.51 L449.36,956.95 L451.75,956.34 L454.15,955.69 L456.55,955.00 L458.95,954.25 L461.34,953.46 L463.74,952.62 L466.14,951.72 L468.54,950.76 L470.93,949.75 L473.33,948.70 L475.73,947.59 L478.13,946.43 L480.53,945.23 L482.92,943.99 L485.32,942.71 L487.72,941.39 L490.12,940.03 L492.51,938.63 L494.91,937.20 L497.31,935.74 L499.71,934.26 L502.11,932.74 L504.50,931.20 L506.90,929.64 L509.30,928.06 L511.70,926.46 L514.09,924.84 L516.49,923.22 L518.89,921.60 L521.29,919.97 L523.69,918.35 L526.08,916.73 L528.48,915.13 L530.88,913.54 L533.28,911.98 L535.67,910.44 L538.07,908.93 L540.47,907.45 L542.87,906.01 L545.27,904.61 L547.66,903.24 L550.06,901.91 L552.46,900.62 L554.86,899.37 L557.25,898.15 L559.65,896.98 L562.05,895.84 L564.45,894.75 L566.84,893.69 L569.24,892.66 L571.64,891.67 L574.04,890.72 L576.44,889.79 L578.83,888.89 L581.23,888.02 L583.63,887.17 L586.03,886.34 L588.42,885.54 L590.82,884.75 L593.22,883.98 L595.62,883.22 L598.02,882.48 L600.41,881.75 L602.81,881.03 L605.21,880.31 L607.61,879.60 L610.00,878.90 L612.40,878.19 L614.80,877.49" fill="none" stroke="#d8602f" stroke-width="1.15"/>
<circle cx="401.4" cy="959.1" r="1.9" fill="#dc6440" stroke="#72301a" stroke-width="0.85"/>
<circle cx="454.8" cy="959.1" r="1.9" fill="#dc6440" stroke="#72301a" stroke-width="0.85"/>
<path d="M508.3,923.4 V928.4 M506.40000000000003,923.4 H510.2 M506.40000000000003,928.4 H510.2" stroke="#2a2a2a" stroke-width="1.1" fill="none"/>
<circle cx="508.3" cy="925.9" r="1.9" fill="#dc6440" stroke="#72301a" stroke-width="0.85"/>
<path d="M561.7,894.2 V899.2 M559.8000000000001,894.2 H563.6 M559.8000000000001,899.2 H563.6" stroke="#2a2a2a" stroke-width="1.1" fill="none"/>
<circle cx="561.7" cy="896.7" r="1.9" fill="#dc6440" stroke="#72301a" stroke-width="0.85"/>
<path d="M615.1,870.9 V883.3000000000001 M613.2,870.9 H617.0 M613.2,883.3000000000001 H617.0" stroke="#2a2a2a" stroke-width="1.1" fill="none"/>
<circle cx="615.1" cy="877.1" r="1.9" fill="#dc6440" stroke="#72301a" stroke-width="0.85"/>
<text x="509.0" y="922.20" text-anchor="middle" class="t st">**</text>
<text x="562.4000000000001" y="891.90" text-anchor="middle" class="t st">**</text>
<text x="615.8000000000001" y="871.20" text-anchor="middle" class="t st">**</text>
<text x="401.4" y="1018.10" text-anchor="middle" class="t xl">0</text>
<text x="454.8" y="1018.10" text-anchor="middle" class="t xl">50</text>
<path d="M498.95,1017.40 L498.95,1005.50 L497.80,1005.50 C497.10,1006.90 495.80,1007.80 494.30,1008.30 L494.50,1009.70 C495.70,1009.30 496.80,1008.60 497.55,1007.90 L497.55,1017.40 Z" fill="#1e1e1e"/>
<text x="503.20" y="1018.10" class="t" style="letter-spacing:1.3px">00</text>
<text x="561.7" y="1018.10" text-anchor="middle" class="t xl">300</text>
<text x="615.1" y="1018.10" text-anchor="middle" class="t xl">500</text>
<text x="535.7" y="1038.20" text-anchor="middle" class="t xt">Concentration (mM)</text>
</svg>
</body></html>
